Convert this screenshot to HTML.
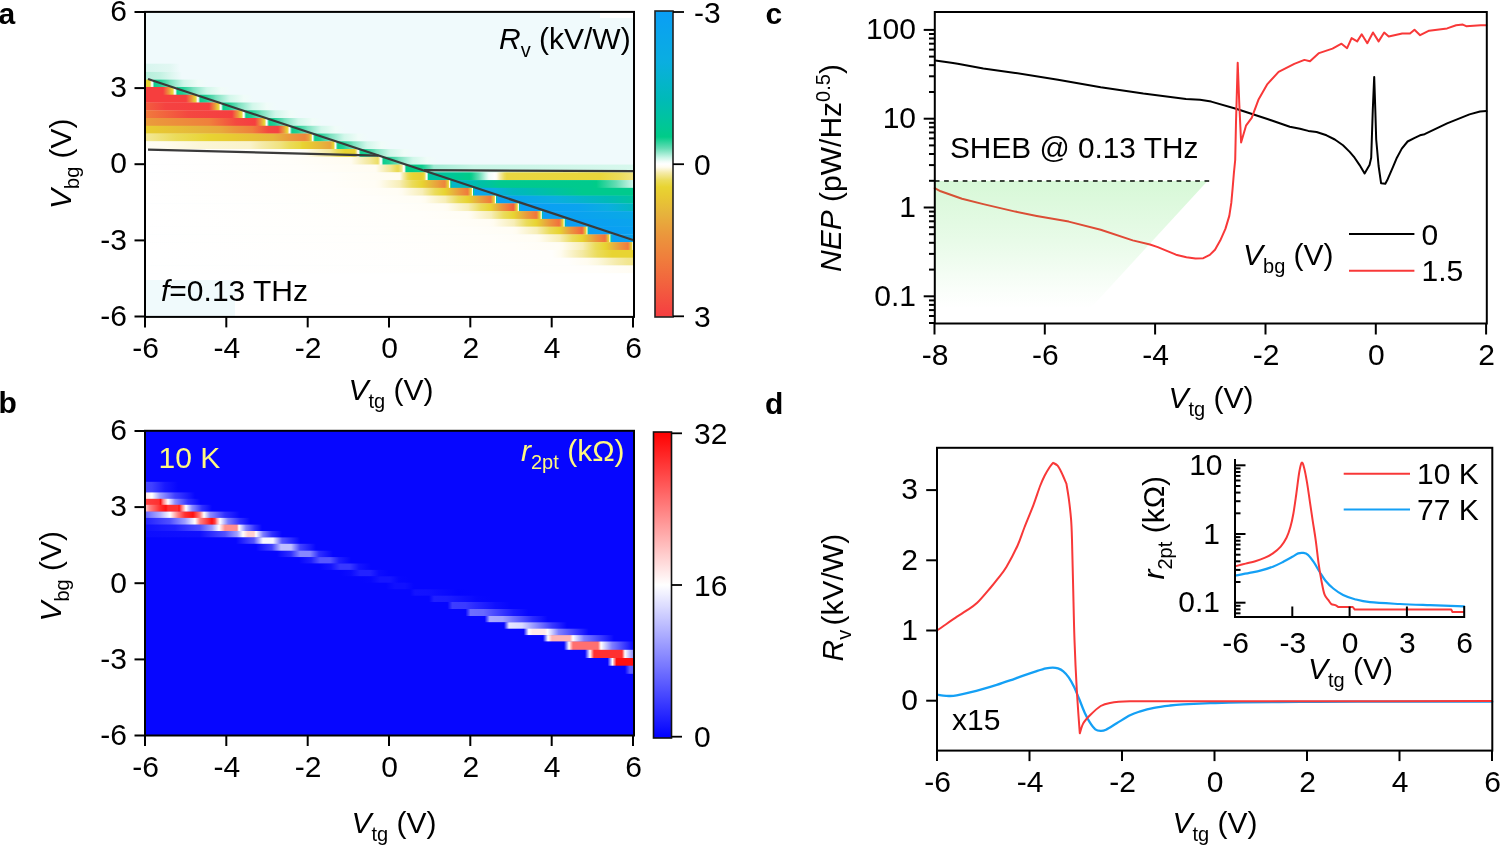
<!DOCTYPE html>
<html><head><meta charset="utf-8"><style>
html,body{margin:0;padding:0;background:#fff;width:1500px;height:846px;overflow:hidden}
svg{display:block;font-family:"Liberation Sans",sans-serif;will-change:transform}
</style></head><body>
<svg width="1500" height="846" viewBox="0 0 1500 846">
<defs><clipPath id="clipA"><rect x="145.0" y="11.9" width="489.0" height="305.0"/></clipPath><linearGradient id="g1" x1="145.0" x2="634.0" y1="0" y2="0" gradientUnits="userSpaceOnUse"><stop offset="0.0000" stop-color="#e8d132"/><stop offset="0.0000" stop-color="#e8d132"/><stop offset="0.0092" stop-color="#e8d432"/><stop offset="0.0107" stop-color="#ebdc5a"/><stop offset="0.0124" stop-color="#f5ebaa"/><stop offset="0.0136" stop-color="#fffcf0"/><stop offset="0.0143" stop-color="#ffffff"/><stop offset="0.0153" stop-color="#f0fcf8"/><stop offset="0.0161" stop-color="#c8f5e6"/><stop offset="0.0177" stop-color="#64dcb4"/><stop offset="0.0194" stop-color="#0ece8e"/><stop offset="0.0307" stop-color="#20d196"/><stop offset="0.0468" stop-color="#64dcb4"/><stop offset="0.0511" stop-color="#7ae2bf"/><stop offset="0.0762" stop-color="#c8f5e6"/><stop offset="0.0798" stop-color="#d2f7ea"/><stop offset="0.1084" stop-color="#f0fcf8"/><stop offset="0.1288" stop-color="#f0fafc"/></linearGradient><linearGradient id="g2" x1="145.0" x2="634.0" y1="0" y2="0" gradientUnits="userSpaceOnUse"><stop offset="0.0000" stop-color="#f63e3e"/><stop offset="0.0368" stop-color="#f63e3e"/><stop offset="0.0374" stop-color="#f54141"/><stop offset="0.0419" stop-color="#f2643e"/><stop offset="0.0452" stop-color="#f07d3c"/><stop offset="0.0486" stop-color="#eb963c"/><stop offset="0.0518" stop-color="#e6b43c"/><stop offset="0.0543" stop-color="#e8ca32"/><stop offset="0.0552" stop-color="#e8d132"/><stop offset="0.0558" stop-color="#e8d432"/><stop offset="0.0573" stop-color="#ebdc5a"/><stop offset="0.0591" stop-color="#f5ebaa"/><stop offset="0.0604" stop-color="#fffcf0"/><stop offset="0.0611" stop-color="#ffffff"/><stop offset="0.0622" stop-color="#f0fcf8"/><stop offset="0.0629" stop-color="#c8f5e6"/><stop offset="0.0645" stop-color="#64dcb4"/><stop offset="0.0663" stop-color="#0ece8e"/><stop offset="0.0775" stop-color="#20d196"/><stop offset="0.0936" stop-color="#64dcb4"/><stop offset="0.0980" stop-color="#7ae2bf"/><stop offset="0.1230" stop-color="#c8f5e6"/><stop offset="0.1266" stop-color="#d2f7ea"/><stop offset="0.1552" stop-color="#f0fcf8"/><stop offset="0.1757" stop-color="#f0fafc"/></linearGradient><linearGradient id="g3" x1="145.0" x2="634.0" y1="0" y2="0" gradientUnits="userSpaceOnUse"><stop offset="0.0000" stop-color="#f63e3e"/><stop offset="0.0838" stop-color="#f63e3e"/><stop offset="0.0844" stop-color="#f54141"/><stop offset="0.0889" stop-color="#f2643e"/><stop offset="0.0922" stop-color="#f07d3c"/><stop offset="0.0956" stop-color="#eb963c"/><stop offset="0.0989" stop-color="#e6b43c"/><stop offset="0.1014" stop-color="#e8ca32"/><stop offset="0.1022" stop-color="#e8d132"/><stop offset="0.1028" stop-color="#e8d432"/><stop offset="0.1043" stop-color="#ebdc5a"/><stop offset="0.1060" stop-color="#f5ebaa"/><stop offset="0.1073" stop-color="#fffcf0"/><stop offset="0.1080" stop-color="#ffffff"/><stop offset="0.1090" stop-color="#f0fcf8"/><stop offset="0.1097" stop-color="#c8f5e6"/><stop offset="0.1114" stop-color="#64dcb4"/><stop offset="0.1131" stop-color="#0ece8e"/><stop offset="0.1243" stop-color="#20d196"/><stop offset="0.1405" stop-color="#64dcb4"/><stop offset="0.1448" stop-color="#7ae2bf"/><stop offset="0.1698" stop-color="#c8f5e6"/><stop offset="0.1734" stop-color="#d2f7ea"/><stop offset="0.2020" stop-color="#f0fcf8"/><stop offset="0.2225" stop-color="#f0fafc"/></linearGradient><linearGradient id="g4" x1="145.0" x2="634.0" y1="0" y2="0" gradientUnits="userSpaceOnUse"><stop offset="0.0000" stop-color="#f25f3e"/><stop offset="0.0429" stop-color="#f54241"/><stop offset="0.0605" stop-color="#f54141"/><stop offset="0.1309" stop-color="#f63e3e"/><stop offset="0.1315" stop-color="#f54141"/><stop offset="0.1360" stop-color="#f2643e"/><stop offset="0.1393" stop-color="#f07d3c"/><stop offset="0.1427" stop-color="#eb963c"/><stop offset="0.1459" stop-color="#e6b43c"/><stop offset="0.1484" stop-color="#e8ca32"/><stop offset="0.1493" stop-color="#e8d132"/><stop offset="0.1498" stop-color="#e8d432"/><stop offset="0.1513" stop-color="#ebdc5a"/><stop offset="0.1529" stop-color="#f5ebaa"/><stop offset="0.1541" stop-color="#fffcf0"/><stop offset="0.1548" stop-color="#ffffff"/><stop offset="0.1558" stop-color="#f0fcf8"/><stop offset="0.1566" stop-color="#c8f5e6"/><stop offset="0.1582" stop-color="#64dcb4"/><stop offset="0.1599" stop-color="#0ece8e"/><stop offset="0.1712" stop-color="#20d196"/><stop offset="0.1873" stop-color="#64dcb4"/><stop offset="0.1916" stop-color="#7ae2bf"/><stop offset="0.2167" stop-color="#c8f5e6"/><stop offset="0.2202" stop-color="#d2f7ea"/><stop offset="0.2489" stop-color="#f0fcf8"/><stop offset="0.2693" stop-color="#f0fafc"/></linearGradient><linearGradient id="g5" x1="145.0" x2="634.0" y1="0" y2="0" gradientUnits="userSpaceOnUse"><stop offset="0.0000" stop-color="#f07b3c"/><stop offset="0.0401" stop-color="#f2643e"/><stop offset="0.0879" stop-color="#f44840"/><stop offset="0.1419" stop-color="#f54141"/><stop offset="0.1779" stop-color="#f63e3e"/><stop offset="0.1785" stop-color="#f54141"/><stop offset="0.1830" stop-color="#f2643e"/><stop offset="0.1863" stop-color="#f07d3c"/><stop offset="0.1897" stop-color="#eb963c"/><stop offset="0.1929" stop-color="#e6b43c"/><stop offset="0.1954" stop-color="#e8ca32"/><stop offset="0.1963" stop-color="#e8d132"/><stop offset="0.1969" stop-color="#e8d432"/><stop offset="0.1982" stop-color="#ebdc5a"/><stop offset="0.1998" stop-color="#f5ebaa"/><stop offset="0.2010" stop-color="#fffcf0"/><stop offset="0.2016" stop-color="#ffffff"/><stop offset="0.2027" stop-color="#f0fcf8"/><stop offset="0.2034" stop-color="#c8f5e6"/><stop offset="0.2050" stop-color="#64dcb4"/><stop offset="0.2067" stop-color="#0ece8e"/><stop offset="0.2180" stop-color="#20d196"/><stop offset="0.2341" stop-color="#64dcb4"/><stop offset="0.2384" stop-color="#7ae2bf"/><stop offset="0.2635" stop-color="#c8f5e6"/><stop offset="0.2671" stop-color="#d2f7ea"/><stop offset="0.2957" stop-color="#f0fcf8"/><stop offset="0.3162" stop-color="#f0fafc"/></linearGradient><linearGradient id="g6" x1="145.0" x2="634.0" y1="0" y2="0" gradientUnits="userSpaceOnUse"><stop offset="0.0000" stop-color="#ea9d3c"/><stop offset="0.0262" stop-color="#eb963c"/><stop offset="0.1309" stop-color="#ef803c"/><stop offset="0.1342" stop-color="#f07d3c"/><stop offset="0.1590" stop-color="#f2643e"/><stop offset="0.1861" stop-color="#f44840"/><stop offset="0.2094" stop-color="#f54141"/><stop offset="0.2249" stop-color="#f63e3e"/><stop offset="0.2255" stop-color="#f54141"/><stop offset="0.2300" stop-color="#f2643e"/><stop offset="0.2333" stop-color="#f07d3c"/><stop offset="0.2367" stop-color="#eb963c"/><stop offset="0.2400" stop-color="#e6b43c"/><stop offset="0.2425" stop-color="#e8ca32"/><stop offset="0.2434" stop-color="#e8d132"/><stop offset="0.2439" stop-color="#e8d432"/><stop offset="0.2452" stop-color="#ebdc5a"/><stop offset="0.2467" stop-color="#f5ebaa"/><stop offset="0.2479" stop-color="#fffcf0"/><stop offset="0.2485" stop-color="#ffffff"/><stop offset="0.2495" stop-color="#f0fcf8"/><stop offset="0.2502" stop-color="#c8f5e6"/><stop offset="0.2519" stop-color="#64dcb4"/><stop offset="0.2536" stop-color="#0ece8e"/><stop offset="0.2648" stop-color="#20d196"/><stop offset="0.2810" stop-color="#64dcb4"/><stop offset="0.2853" stop-color="#7ae2bf"/><stop offset="0.3103" stop-color="#c8f5e6"/><stop offset="0.3139" stop-color="#d2f7ea"/><stop offset="0.3425" stop-color="#f0fcf8"/><stop offset="0.3630" stop-color="#f0fafc"/></linearGradient><linearGradient id="g7" x1="145.0" x2="634.0" y1="0" y2="0" gradientUnits="userSpaceOnUse"><stop offset="0.0000" stop-color="#e8ce32"/><stop offset="0.0195" stop-color="#e8ca32"/><stop offset="0.1143" stop-color="#e6b43c"/><stop offset="0.1534" stop-color="#e8aa3c"/><stop offset="0.1814" stop-color="#eb963c"/><stop offset="0.2188" stop-color="#ef803c"/><stop offset="0.2208" stop-color="#f07d3c"/><stop offset="0.2355" stop-color="#f2643e"/><stop offset="0.2515" stop-color="#f44840"/><stop offset="0.2720" stop-color="#f54241"/><stop offset="0.2765" stop-color="#f2643e"/><stop offset="0.2800" stop-color="#f07d3c"/><stop offset="0.2835" stop-color="#eb963c"/><stop offset="0.2869" stop-color="#e6b43c"/><stop offset="0.2895" stop-color="#e8ca32"/><stop offset="0.2904" stop-color="#e8d132"/><stop offset="0.2909" stop-color="#e8d432"/><stop offset="0.2922" stop-color="#ebdc5a"/><stop offset="0.2936" stop-color="#f5ebaa"/><stop offset="0.2947" stop-color="#fffcf0"/><stop offset="0.2953" stop-color="#ffffff"/><stop offset="0.2963" stop-color="#f0fcf8"/><stop offset="0.2970" stop-color="#c8f5e6"/><stop offset="0.2987" stop-color="#64dcb4"/><stop offset="0.3004" stop-color="#0ece8e"/><stop offset="0.3117" stop-color="#20d196"/><stop offset="0.3278" stop-color="#64dcb4"/><stop offset="0.3321" stop-color="#7ae2bf"/><stop offset="0.3572" stop-color="#c8f5e6"/><stop offset="0.3607" stop-color="#d2f7ea"/><stop offset="0.3894" stop-color="#f0fcf8"/><stop offset="0.4098" stop-color="#f0fafc"/></linearGradient><linearGradient id="g8" x1="145.0" x2="634.0" y1="0" y2="0" gradientUnits="userSpaceOnUse"><stop offset="0.0000" stop-color="#f3e89a"/><stop offset="0.0628" stop-color="#ebdc5a"/><stop offset="0.1309" stop-color="#e8d432"/><stop offset="0.1803" stop-color="#e8ca32"/><stop offset="0.2618" stop-color="#e6b83a"/><stop offset="0.2665" stop-color="#e6b43c"/><stop offset="0.3012" stop-color="#eb963c"/><stop offset="0.3170" stop-color="#ed8b3c"/><stop offset="0.3272" stop-color="#ee863c"/><stop offset="0.3321" stop-color="#eb963c"/><stop offset="0.3354" stop-color="#e9a43c"/><stop offset="0.3368" stop-color="#e6b43c"/><stop offset="0.3388" stop-color="#e8ca32"/><stop offset="0.3395" stop-color="#e8d132"/><stop offset="0.3397" stop-color="#e8d432"/><stop offset="0.3404" stop-color="#ebdc5a"/><stop offset="0.3412" stop-color="#f5ebaa"/><stop offset="0.3418" stop-color="#fffcf0"/><stop offset="0.3421" stop-color="#ffffff"/><stop offset="0.3431" stop-color="#f0fcf8"/><stop offset="0.3439" stop-color="#c8f5e6"/><stop offset="0.3455" stop-color="#64dcb4"/><stop offset="0.3472" stop-color="#0ece8e"/><stop offset="0.3585" stop-color="#20d196"/><stop offset="0.3746" stop-color="#64dcb4"/><stop offset="0.3789" stop-color="#7ae2bf"/><stop offset="0.4040" stop-color="#c8f5e6"/><stop offset="0.4076" stop-color="#d2f7ea"/><stop offset="0.4362" stop-color="#f0fcf8"/><stop offset="0.4566" stop-color="#f0fafc"/></linearGradient><linearGradient id="g9" x1="145.0" x2="634.0" y1="0" y2="0" gradientUnits="userSpaceOnUse"><stop offset="0.0000" stop-color="#fffdf5"/><stop offset="0.0375" stop-color="#fffcf0"/><stop offset="0.1125" stop-color="#fbf6d7"/><stop offset="0.2147" stop-color="#faf3ca"/><stop offset="0.2383" stop-color="#f5ebaa"/><stop offset="0.2761" stop-color="#f0e37f"/><stop offset="0.2952" stop-color="#ebdc5a"/><stop offset="0.3170" stop-color="#e9d741"/><stop offset="0.3211" stop-color="#e8d432"/><stop offset="0.3350" stop-color="#e8ca32"/><stop offset="0.3579" stop-color="#e6b83a"/><stop offset="0.3620" stop-color="#e6b43c"/><stop offset="0.3783" stop-color="#e9a43c"/><stop offset="0.3808" stop-color="#e6b43c"/><stop offset="0.3843" stop-color="#e8ca32"/><stop offset="0.3845" stop-color="#e8cb32"/><stop offset="0.3856" stop-color="#e8d432"/><stop offset="0.3866" stop-color="#ebdc5a"/><stop offset="0.3877" stop-color="#f5ebaa"/><stop offset="0.3885" stop-color="#fffcf0"/><stop offset="0.3890" stop-color="#ffffff"/><stop offset="0.3900" stop-color="#f0fcf8"/><stop offset="0.3907" stop-color="#c8f5e6"/><stop offset="0.3923" stop-color="#64dcb4"/><stop offset="0.3941" stop-color="#0ece8e"/><stop offset="0.4053" stop-color="#20d196"/><stop offset="0.4215" stop-color="#64dcb4"/><stop offset="0.4258" stop-color="#7ae2bf"/><stop offset="0.4508" stop-color="#c8f5e6"/><stop offset="0.4544" stop-color="#d2f7ea"/><stop offset="0.4830" stop-color="#f0fcf8"/><stop offset="0.5035" stop-color="#f0fafc"/></linearGradient><linearGradient id="g10" x1="145.0" x2="634.0" y1="0" y2="0" gradientUnits="userSpaceOnUse"><stop offset="0.0000" stop-color="#ffffff"/><stop offset="0.3170" stop-color="#fffefa"/><stop offset="0.3306" stop-color="#fffcf0"/><stop offset="0.3681" stop-color="#f5ebaa"/><stop offset="0.3783" stop-color="#f3e89a"/><stop offset="0.3930" stop-color="#ebdc5a"/><stop offset="0.4090" stop-color="#e8d432"/><stop offset="0.4274" stop-color="#e8d132"/><stop offset="0.4284" stop-color="#e8d432"/><stop offset="0.4311" stop-color="#ebdc5a"/><stop offset="0.4315" stop-color="#ecde65"/><stop offset="0.4334" stop-color="#f5ebaa"/><stop offset="0.4349" stop-color="#fffcf0"/><stop offset="0.4358" stop-color="#ffffff"/><stop offset="0.4368" stop-color="#f0fcf8"/><stop offset="0.4375" stop-color="#c8f5e6"/><stop offset="0.4392" stop-color="#64dcb4"/><stop offset="0.4409" stop-color="#0ece8e"/><stop offset="0.4521" stop-color="#20d196"/><stop offset="0.4683" stop-color="#64dcb4"/><stop offset="0.4726" stop-color="#7ae2bf"/><stop offset="0.4976" stop-color="#c8f5e6"/><stop offset="0.5012" stop-color="#d2f7ea"/><stop offset="0.5299" stop-color="#f0fcf8"/><stop offset="0.5503" stop-color="#f0fafc"/></linearGradient><linearGradient id="g11" x1="145.0" x2="634.0" y1="0" y2="0" gradientUnits="userSpaceOnUse"><stop offset="0.0000" stop-color="#ffffff"/><stop offset="0.2965" stop-color="#fffefa"/><stop offset="0.4192" stop-color="#fffcf2"/><stop offset="0.4219" stop-color="#fffcf0"/><stop offset="0.4519" stop-color="#f5ebaa"/><stop offset="0.4601" stop-color="#f3e89a"/><stop offset="0.4765" stop-color="#ecde65"/><stop offset="0.4791" stop-color="#f5ebaa"/><stop offset="0.4814" stop-color="#fffcf0"/><stop offset="0.4826" stop-color="#ffffff"/><stop offset="0.4836" stop-color="#f0fcf8"/><stop offset="0.4844" stop-color="#c8f5e6"/><stop offset="0.4860" stop-color="#64dcb4"/><stop offset="0.4877" stop-color="#0ece8e"/><stop offset="0.4990" stop-color="#20d196"/><stop offset="0.5151" stop-color="#64dcb4"/><stop offset="0.5194" stop-color="#7ae2bf"/><stop offset="0.5445" stop-color="#c8f5e6"/><stop offset="0.5481" stop-color="#d2f7ea"/><stop offset="0.5767" stop-color="#f0fcf8"/><stop offset="0.5971" stop-color="#f0fafc"/></linearGradient><linearGradient id="g12" x1="145.0" x2="634.0" y1="0" y2="0" gradientUnits="userSpaceOnUse"><stop offset="0.0000" stop-color="#ffffff"/><stop offset="0.3170" stop-color="#fffefa"/><stop offset="0.4703" stop-color="#fffcf2"/><stop offset="0.4724" stop-color="#fffcf0"/><stop offset="0.4949" stop-color="#f5ebaa"/><stop offset="0.5010" stop-color="#f3e89a"/><stop offset="0.5141" stop-color="#ebdc5a"/><stop offset="0.5174" stop-color="#eada51"/><stop offset="0.5190" stop-color="#ebdc5a"/><stop offset="0.5256" stop-color="#f3e89a"/><stop offset="0.5261" stop-color="#f5ebaa"/><stop offset="0.5283" stop-color="#fffcf0"/><stop offset="0.5294" stop-color="#ffffff"/><stop offset="0.5305" stop-color="#f0fcf8"/><stop offset="0.5311" stop-color="#c8f5e6"/><stop offset="0.5326" stop-color="#64dcb4"/><stop offset="0.5344" stop-color="#00cc88"/><stop offset="0.5346" stop-color="#00cc89"/><stop offset="0.5472" stop-color="#00cc88"/><stop offset="0.5663" stop-color="#0ece8e"/><stop offset="0.5818" stop-color="#64dcb4"/><stop offset="0.5908" stop-color="#a1ebd3"/><stop offset="0.6726" stop-color="#c8f5e6"/><stop offset="0.9980" stop-color="#d7f8ed"/></linearGradient><linearGradient id="g13" x1="145.0" x2="634.0" y1="0" y2="0" gradientUnits="userSpaceOnUse"><stop offset="0.0000" stop-color="#ffffff"/><stop offset="0.3783" stop-color="#fffefa"/><stop offset="0.5215" stop-color="#fffcf0"/><stop offset="0.5281" stop-color="#f5ebaa"/><stop offset="0.5371" stop-color="#ebdc5a"/><stop offset="0.5419" stop-color="#e9d741"/><stop offset="0.5487" stop-color="#e8d432"/><stop offset="0.5624" stop-color="#e8ce32"/><stop offset="0.5678" stop-color="#e8d432"/><stop offset="0.5706" stop-color="#e9d741"/><stop offset="0.5717" stop-color="#ebdc5a"/><stop offset="0.5738" stop-color="#f5ebaa"/><stop offset="0.5754" stop-color="#fffcf0"/><stop offset="0.5763" stop-color="#ffffff"/><stop offset="0.5768" stop-color="#f0fcf8"/><stop offset="0.5773" stop-color="#d7f8ed"/><stop offset="0.5774" stop-color="#c8f5e6"/><stop offset="0.5783" stop-color="#64dcb4"/><stop offset="0.5793" stop-color="#00cc88"/><stop offset="0.5814" stop-color="#00c1a6"/><stop offset="0.6376" stop-color="#00c893"/><stop offset="0.6637" stop-color="#00cc88"/><stop offset="0.6683" stop-color="#0ece8e"/><stop offset="0.6830" stop-color="#64dcb4"/><stop offset="0.6969" stop-color="#c8f5e6"/><stop offset="0.7031" stop-color="#f0fcf8"/><stop offset="0.7153" stop-color="#ffffff"/><stop offset="0.7190" stop-color="#fffcf0"/><stop offset="0.7258" stop-color="#f5ebaa"/><stop offset="0.7350" stop-color="#ebdc5a"/><stop offset="0.7399" stop-color="#e9d741"/><stop offset="0.9305" stop-color="#e9d63b"/><stop offset="0.9702" stop-color="#ebdc5a"/><stop offset="0.9980" stop-color="#f0e37f"/></linearGradient><linearGradient id="g14" x1="145.0" x2="634.0" y1="0" y2="0" gradientUnits="userSpaceOnUse"><stop offset="0.0000" stop-color="#ffffff"/><stop offset="0.3777" stop-color="#fffefa"/><stop offset="0.4697" stop-color="#fffdf5"/><stop offset="0.4790" stop-color="#fffcf0"/><stop offset="0.5209" stop-color="#f7eeb7"/><stop offset="0.5239" stop-color="#f5ebaa"/><stop offset="0.5464" stop-color="#ebdc5a"/><stop offset="0.5658" stop-color="#e8d432"/><stop offset="0.5726" stop-color="#e8ca32"/><stop offset="0.5861" stop-color="#e6b43c"/><stop offset="0.5986" stop-color="#ea9f3c"/><stop offset="0.6028" stop-color="#eb963c"/><stop offset="0.6129" stop-color="#ee863c"/><stop offset="0.6147" stop-color="#eb963c"/><stop offset="0.6173" stop-color="#e6b43c"/><stop offset="0.6193" stop-color="#e8ca32"/><stop offset="0.6200" stop-color="#e8d132"/><stop offset="0.6203" stop-color="#e8d432"/><stop offset="0.6211" stop-color="#ebdc5a"/><stop offset="0.6221" stop-color="#f5ebaa"/><stop offset="0.6227" stop-color="#fffcf0"/><stop offset="0.6231" stop-color="#ffffff"/><stop offset="0.6234" stop-color="#f0fcf8"/><stop offset="0.6238" stop-color="#c8f5e6"/><stop offset="0.6241" stop-color="#a1ebd3"/><stop offset="0.6245" stop-color="#64dcb4"/><stop offset="0.6251" stop-color="#00cc88"/><stop offset="0.6273" stop-color="#00bab8"/><stop offset="0.6282" stop-color="#05b5ca"/><stop offset="0.6620" stop-color="#00bab8"/><stop offset="0.7254" stop-color="#00c990"/><stop offset="0.9100" stop-color="#00ca8d"/><stop offset="0.9228" stop-color="#00cc88"/><stop offset="0.9631" stop-color="#64dcb4"/><stop offset="0.9961" stop-color="#c8f5e6"/><stop offset="0.9980" stop-color="#cdf6e8"/></linearGradient><linearGradient id="g15" x1="145.0" x2="634.0" y1="0" y2="0" gradientUnits="userSpaceOnUse"><stop offset="0.0000" stop-color="#ffffff"/><stop offset="0.4245" stop-color="#fffefa"/><stop offset="0.5166" stop-color="#fffdf5"/><stop offset="0.5259" stop-color="#fffcf0"/><stop offset="0.5677" stop-color="#f7eeb7"/><stop offset="0.5707" stop-color="#f5ebaa"/><stop offset="0.5932" stop-color="#ebdc5a"/><stop offset="0.6127" stop-color="#e8d432"/><stop offset="0.6184" stop-color="#e8ca32"/><stop offset="0.6298" stop-color="#e6b43c"/><stop offset="0.6446" stop-color="#eb963c"/><stop offset="0.6454" stop-color="#eb953c"/><stop offset="0.6585" stop-color="#f07d3c"/><stop offset="0.6597" stop-color="#f07b3c"/><stop offset="0.6599" stop-color="#f07d3c"/><stop offset="0.6623" stop-color="#eb963c"/><stop offset="0.6645" stop-color="#e6b43c"/><stop offset="0.6663" stop-color="#e8ca32"/><stop offset="0.6669" stop-color="#e8d132"/><stop offset="0.6672" stop-color="#e8d432"/><stop offset="0.6680" stop-color="#ebdc5a"/><stop offset="0.6689" stop-color="#f5ebaa"/><stop offset="0.6696" stop-color="#fffcf0"/><stop offset="0.6699" stop-color="#ffffff"/><stop offset="0.6701" stop-color="#f0fcf8"/><stop offset="0.6704" stop-color="#c8f5e6"/><stop offset="0.6710" stop-color="#6addb7"/><stop offset="0.6710" stop-color="#64dcb4"/><stop offset="0.6714" stop-color="#00cc88"/><stop offset="0.6726" stop-color="#00bab8"/><stop offset="0.6739" stop-color="#0aaee0"/><stop offset="0.6751" stop-color="#0aa3ef"/><stop offset="0.7163" stop-color="#0aaee0"/><stop offset="0.7517" stop-color="#02b8bf"/><stop offset="0.7750" stop-color="#00bab8"/><stop offset="0.8949" stop-color="#00ca8d"/><stop offset="0.9980" stop-color="#00ca8d"/></linearGradient><linearGradient id="g16" x1="145.0" x2="634.0" y1="0" y2="0" gradientUnits="userSpaceOnUse"><stop offset="0.0000" stop-color="#ffffff"/><stop offset="0.4714" stop-color="#fffefa"/><stop offset="0.5634" stop-color="#fffdf5"/><stop offset="0.5727" stop-color="#fffcf0"/><stop offset="0.6145" stop-color="#f7eeb7"/><stop offset="0.6175" stop-color="#f5ebaa"/><stop offset="0.6400" stop-color="#ebdc5a"/><stop offset="0.6595" stop-color="#e8d432"/><stop offset="0.6652" stop-color="#e8ca32"/><stop offset="0.6766" stop-color="#e6b43c"/><stop offset="0.6914" stop-color="#eb963c"/><stop offset="0.6922" stop-color="#eb953c"/><stop offset="0.7053" stop-color="#f07d3c"/><stop offset="0.7065" stop-color="#f07b3c"/><stop offset="0.7067" stop-color="#f07d3c"/><stop offset="0.7091" stop-color="#eb963c"/><stop offset="0.7113" stop-color="#e6b43c"/><stop offset="0.7131" stop-color="#e8ca32"/><stop offset="0.7137" stop-color="#e8d132"/><stop offset="0.7140" stop-color="#e8d432"/><stop offset="0.7148" stop-color="#ebdc5a"/><stop offset="0.7157" stop-color="#f5ebaa"/><stop offset="0.7164" stop-color="#fffcf0"/><stop offset="0.7168" stop-color="#ffffff"/><stop offset="0.7169" stop-color="#f0fcf8"/><stop offset="0.7172" stop-color="#c8f5e6"/><stop offset="0.7178" stop-color="#6addb7"/><stop offset="0.7178" stop-color="#64dcb4"/><stop offset="0.7182" stop-color="#00cc88"/><stop offset="0.7193" stop-color="#00bab8"/><stop offset="0.7205" stop-color="#0aaee0"/><stop offset="0.7219" stop-color="#0aa0f3"/><stop offset="0.8395" stop-color="#0aaee0"/><stop offset="0.9446" stop-color="#00bab8"/><stop offset="0.9980" stop-color="#00c3a0"/></linearGradient><linearGradient id="g17" x1="145.0" x2="634.0" y1="0" y2="0" gradientUnits="userSpaceOnUse"><stop offset="0.0000" stop-color="#ffffff"/><stop offset="0.5182" stop-color="#fffefa"/><stop offset="0.6102" stop-color="#fffdf5"/><stop offset="0.6195" stop-color="#fffcf0"/><stop offset="0.6613" stop-color="#f7eeb7"/><stop offset="0.6643" stop-color="#f5ebaa"/><stop offset="0.6868" stop-color="#ebdc5a"/><stop offset="0.7063" stop-color="#e8d432"/><stop offset="0.7105" stop-color="#e8ca32"/><stop offset="0.7187" stop-color="#e6b43c"/><stop offset="0.7294" stop-color="#eb963c"/><stop offset="0.7391" stop-color="#ef803c"/><stop offset="0.7405" stop-color="#f07d3c"/><stop offset="0.7512" stop-color="#f2643e"/><stop offset="0.7534" stop-color="#f25f3e"/><stop offset="0.7537" stop-color="#f2643e"/><stop offset="0.7554" stop-color="#f07d3c"/><stop offset="0.7571" stop-color="#eb963c"/><stop offset="0.7588" stop-color="#e6b43c"/><stop offset="0.7601" stop-color="#e8ca32"/><stop offset="0.7605" stop-color="#e8d132"/><stop offset="0.7608" stop-color="#e8d432"/><stop offset="0.7616" stop-color="#ebdc5a"/><stop offset="0.7626" stop-color="#f5ebaa"/><stop offset="0.7632" stop-color="#fffcf0"/><stop offset="0.7636" stop-color="#ffffff"/><stop offset="0.7638" stop-color="#f0fcf8"/><stop offset="0.7640" stop-color="#c8f5e6"/><stop offset="0.7646" stop-color="#6addb7"/><stop offset="0.7646" stop-color="#64dcb4"/><stop offset="0.7650" stop-color="#00cc88"/><stop offset="0.7661" stop-color="#00bab8"/><stop offset="0.7672" stop-color="#0aaee0"/><stop offset="0.7687" stop-color="#0a9ef5"/><stop offset="0.8863" stop-color="#0aa3ef"/><stop offset="0.9464" stop-color="#0aaee0"/><stop offset="0.9980" stop-color="#02b8bf"/></linearGradient><linearGradient id="g18" x1="145.0" x2="634.0" y1="0" y2="0" gradientUnits="userSpaceOnUse"><stop offset="0.0000" stop-color="#ffffff"/><stop offset="0.5650" stop-color="#fffefa"/><stop offset="0.6571" stop-color="#fffdf5"/><stop offset="0.6664" stop-color="#fffcf0"/><stop offset="0.7082" stop-color="#f7eeb7"/><stop offset="0.7112" stop-color="#f5ebaa"/><stop offset="0.7337" stop-color="#ebdc5a"/><stop offset="0.7532" stop-color="#e8d432"/><stop offset="0.7585" stop-color="#e8ca32"/><stop offset="0.7691" stop-color="#e6b43c"/><stop offset="0.7828" stop-color="#eb963c"/><stop offset="0.7859" stop-color="#ec913c"/><stop offset="0.7962" stop-color="#f07d3c"/><stop offset="0.8002" stop-color="#f1753d"/><stop offset="0.8009" stop-color="#f07d3c"/><stop offset="0.8031" stop-color="#eb963c"/><stop offset="0.8052" stop-color="#e6b43c"/><stop offset="0.8068" stop-color="#e8ca32"/><stop offset="0.8074" stop-color="#e8d132"/><stop offset="0.8077" stop-color="#e8d432"/><stop offset="0.8085" stop-color="#ebdc5a"/><stop offset="0.8094" stop-color="#f5ebaa"/><stop offset="0.8101" stop-color="#fffcf0"/><stop offset="0.8104" stop-color="#ffffff"/><stop offset="0.8106" stop-color="#f0fcf8"/><stop offset="0.8109" stop-color="#c8f5e6"/><stop offset="0.8115" stop-color="#6addb7"/><stop offset="0.8115" stop-color="#64dcb4"/><stop offset="0.8118" stop-color="#00cc88"/><stop offset="0.8129" stop-color="#00bab8"/><stop offset="0.8140" stop-color="#0aaee0"/><stop offset="0.8155" stop-color="#0a9ef5"/><stop offset="0.9980" stop-color="#0aa9e6"/></linearGradient><linearGradient id="g19" x1="145.0" x2="634.0" y1="0" y2="0" gradientUnits="userSpaceOnUse"><stop offset="0.0000" stop-color="#ffffff"/><stop offset="0.6119" stop-color="#fffefa"/><stop offset="0.7039" stop-color="#fffdf5"/><stop offset="0.7132" stop-color="#fffcf0"/><stop offset="0.7550" stop-color="#f7eeb7"/><stop offset="0.7580" stop-color="#f5ebaa"/><stop offset="0.7805" stop-color="#ebdc5a"/><stop offset="0.8000" stop-color="#e8d432"/><stop offset="0.8049" stop-color="#e8ca32"/><stop offset="0.8148" stop-color="#e6b43c"/><stop offset="0.8276" stop-color="#eb963c"/><stop offset="0.8327" stop-color="#ed8c3c"/><stop offset="0.8405" stop-color="#f07d3c"/><stop offset="0.8470" stop-color="#f1703d"/><stop offset="0.8481" stop-color="#f07d3c"/><stop offset="0.8502" stop-color="#eb963c"/><stop offset="0.8521" stop-color="#e6b43c"/><stop offset="0.8537" stop-color="#e8ca32"/><stop offset="0.8542" stop-color="#e8d132"/><stop offset="0.8545" stop-color="#e8d432"/><stop offset="0.8553" stop-color="#ebdc5a"/><stop offset="0.8562" stop-color="#f5ebaa"/><stop offset="0.8569" stop-color="#fffcf0"/><stop offset="0.8573" stop-color="#ffffff"/><stop offset="0.8574" stop-color="#f0fcf8"/><stop offset="0.8577" stop-color="#c8f5e6"/><stop offset="0.8583" stop-color="#6addb7"/><stop offset="0.8583" stop-color="#64dcb4"/><stop offset="0.8586" stop-color="#00cc88"/><stop offset="0.8598" stop-color="#00bab8"/><stop offset="0.8609" stop-color="#0aaee0"/><stop offset="0.8624" stop-color="#0a9ef5"/><stop offset="0.9980" stop-color="#0aa4ed"/></linearGradient><linearGradient id="g20" x1="145.0" x2="634.0" y1="0" y2="0" gradientUnits="userSpaceOnUse"><stop offset="0.0000" stop-color="#ffffff"/><stop offset="0.6587" stop-color="#fffefa"/><stop offset="0.7507" stop-color="#fffdf5"/><stop offset="0.7600" stop-color="#fffcf0"/><stop offset="0.8018" stop-color="#f7eeb7"/><stop offset="0.8048" stop-color="#f5ebaa"/><stop offset="0.8273" stop-color="#ebdc5a"/><stop offset="0.8468" stop-color="#e8d432"/><stop offset="0.8512" stop-color="#e8ca32"/><stop offset="0.8599" stop-color="#e6b43c"/><stop offset="0.8712" stop-color="#eb963c"/><stop offset="0.8796" stop-color="#ef843c"/><stop offset="0.8829" stop-color="#f07d3c"/><stop offset="0.8939" stop-color="#f2653e"/><stop offset="0.8956" stop-color="#f07d3c"/><stop offset="0.8974" stop-color="#eb963c"/><stop offset="0.8992" stop-color="#e6b43c"/><stop offset="0.9005" stop-color="#e8ca32"/><stop offset="0.9010" stop-color="#e8d132"/><stop offset="0.9013" stop-color="#e8d432"/><stop offset="0.9021" stop-color="#ebdc5a"/><stop offset="0.9030" stop-color="#f5ebaa"/><stop offset="0.9037" stop-color="#fffcf0"/><stop offset="0.9041" stop-color="#ffffff"/><stop offset="0.9043" stop-color="#f0fcf8"/><stop offset="0.9045" stop-color="#c8f5e6"/><stop offset="0.9051" stop-color="#6addb7"/><stop offset="0.9051" stop-color="#64dcb4"/><stop offset="0.9055" stop-color="#00cc88"/><stop offset="0.9066" stop-color="#00bab8"/><stop offset="0.9077" stop-color="#0aaee0"/><stop offset="0.9092" stop-color="#0a9ef5"/><stop offset="0.9980" stop-color="#0aa1f1"/></linearGradient><linearGradient id="g21" x1="145.0" x2="634.0" y1="0" y2="0" gradientUnits="userSpaceOnUse"><stop offset="0.0000" stop-color="#ffffff"/><stop offset="0.7055" stop-color="#fffefa"/><stop offset="0.7975" stop-color="#fffdf5"/><stop offset="0.8068" stop-color="#fffcf0"/><stop offset="0.8487" stop-color="#f7eeb7"/><stop offset="0.8517" stop-color="#f5ebaa"/><stop offset="0.8742" stop-color="#ebdc5a"/><stop offset="0.8937" stop-color="#e8d432"/><stop offset="0.8986" stop-color="#e8ca32"/><stop offset="0.9085" stop-color="#e6b43c"/><stop offset="0.9213" stop-color="#eb963c"/><stop offset="0.9264" stop-color="#ed8c3c"/><stop offset="0.9342" stop-color="#f07d3c"/><stop offset="0.9407" stop-color="#f1703d"/><stop offset="0.9418" stop-color="#f07d3c"/><stop offset="0.9438" stop-color="#eb963c"/><stop offset="0.9458" stop-color="#e6b43c"/><stop offset="0.9473" stop-color="#e8ca32"/><stop offset="0.9479" stop-color="#e8d132"/><stop offset="0.9482" stop-color="#e8d432"/><stop offset="0.9490" stop-color="#ebdc5a"/><stop offset="0.9499" stop-color="#f5ebaa"/><stop offset="0.9506" stop-color="#fffcf0"/><stop offset="0.9509" stop-color="#ffffff"/><stop offset="0.9511" stop-color="#f0fcf8"/><stop offset="0.9514" stop-color="#c8f5e6"/><stop offset="0.9519" stop-color="#6addb7"/><stop offset="0.9520" stop-color="#64dcb4"/><stop offset="0.9523" stop-color="#00cc88"/><stop offset="0.9535" stop-color="#00bab8"/><stop offset="0.9546" stop-color="#0aaee0"/><stop offset="0.9560" stop-color="#0aa0f3"/><stop offset="0.9980" stop-color="#0aa3ef"/></linearGradient><linearGradient id="g22" x1="145.0" x2="634.0" y1="0" y2="0" gradientUnits="userSpaceOnUse"><stop offset="0.0000" stop-color="#ffffff"/><stop offset="0.7524" stop-color="#fffefa"/><stop offset="0.8444" stop-color="#fffdf5"/><stop offset="0.8537" stop-color="#fffcf0"/><stop offset="0.8955" stop-color="#f7eeb7"/><stop offset="0.8985" stop-color="#f5ebaa"/><stop offset="0.9210" stop-color="#ebdc5a"/><stop offset="0.9405" stop-color="#e8d432"/><stop offset="0.9462" stop-color="#e8ca32"/><stop offset="0.9576" stop-color="#e6b43c"/><stop offset="0.9724" stop-color="#eb963c"/><stop offset="0.9732" stop-color="#eb953c"/><stop offset="0.9863" stop-color="#f07d3c"/><stop offset="0.9875" stop-color="#f07b3c"/><stop offset="0.9877" stop-color="#f07d3c"/><stop offset="0.9901" stop-color="#eb963c"/><stop offset="0.9923" stop-color="#e6b43c"/><stop offset="0.9941" stop-color="#e8ca32"/><stop offset="0.9947" stop-color="#e8d132"/><stop offset="0.9950" stop-color="#e8d432"/><stop offset="0.9958" stop-color="#ebdc5a"/><stop offset="0.9967" stop-color="#f5ebaa"/><stop offset="0.9974" stop-color="#fffcf0"/><stop offset="0.9978" stop-color="#ffffff"/></linearGradient><linearGradient id="g23" x1="145.0" x2="634.0" y1="0" y2="0" gradientUnits="userSpaceOnUse"><stop offset="0.0000" stop-color="#ffffff"/><stop offset="0.8323" stop-color="#fffefc"/><stop offset="0.8504" stop-color="#fffcf0"/><stop offset="0.8901" stop-color="#f5ebaa"/><stop offset="0.8937" stop-color="#f4eaa5"/><stop offset="0.9255" stop-color="#ebdc5a"/><stop offset="0.9550" stop-color="#e8d432"/><stop offset="0.9980" stop-color="#e8d432"/></linearGradient><linearGradient id="g24" x1="145.0" x2="634.0" y1="0" y2="0" gradientUnits="userSpaceOnUse"><stop offset="0.0000" stop-color="#ffffff"/><stop offset="0.8650" stop-color="#fffefc"/><stop offset="0.9044" stop-color="#fffcf0"/><stop offset="0.9264" stop-color="#fcf8de"/><stop offset="0.9645" stop-color="#f5ebaa"/><stop offset="0.9877" stop-color="#f2e68f"/><stop offset="0.9980" stop-color="#f2e68f"/></linearGradient><linearGradient id="g25" x1="145.0" x2="634.0" y1="0" y2="0" gradientUnits="userSpaceOnUse"><stop offset="0.0000" stop-color="#ffffff"/><stop offset="0.8732" stop-color="#fffefc"/><stop offset="0.9346" stop-color="#fffefa"/><stop offset="0.9959" stop-color="#fffcf2"/><stop offset="0.9980" stop-color="#fffcf2"/></linearGradient><linearGradient id="g26" x1="145.0" x2="634.0" y1="0" y2="0" gradientUnits="userSpaceOnUse"><stop offset="0.0000" stop-color="#b4eeda"/><stop offset="0.0307" stop-color="#c3f2e2"/><stop offset="0.0552" stop-color="#def7f0"/><stop offset="0.0757" stop-color="#f0fafc"/></linearGradient><linearGradient id="g27" x1="145.0" x2="634.0" y1="0" y2="0" gradientUnits="userSpaceOnUse"><stop offset="0.0000" stop-color="#d7f5ee"/><stop offset="0.0511" stop-color="#e1f7f2"/><stop offset="0.0716" stop-color="#f0fafc"/></linearGradient><linearGradient id="g28" x1="0" x2="0" y1="0" y2="1"><stop offset="0.0000" stop-color="#0a9ef5"/><stop offset="0.1667" stop-color="#0aaee0"/><stop offset="0.2883" stop-color="#00bab8"/><stop offset="0.4117" stop-color="#00cc88"/><stop offset="0.4483" stop-color="#64dcb4"/><stop offset="0.4783" stop-color="#c8f5e6"/><stop offset="0.4917" stop-color="#f0fcf8"/><stop offset="0.5000" stop-color="#ffffff"/><stop offset="0.5100" stop-color="#fffcf0"/><stop offset="0.5283" stop-color="#f5ebaa"/><stop offset="0.5533" stop-color="#ebdc5a"/><stop offset="0.5750" stop-color="#e8d432"/><stop offset="0.6033" stop-color="#e8ca32"/><stop offset="0.6600" stop-color="#e6b43c"/><stop offset="0.7333" stop-color="#eb963c"/><stop offset="0.8100" stop-color="#f07d3c"/><stop offset="0.8850" stop-color="#f2643e"/><stop offset="0.9867" stop-color="#f54141"/><stop offset="1.0000" stop-color="#f63e3e"/></linearGradient><clipPath id="clipB"><rect x="145.0" y="430.8" width="489.0" height="304.7"/></clipPath><linearGradient id="g29" x1="145.0" x2="634.0" y1="0" y2="0" gradientUnits="userSpaceOnUse"><stop offset="0.0000" stop-color="#4848ff"/><stop offset="0.0143" stop-color="#4040ff"/><stop offset="0.0409" stop-color="#1818ff"/><stop offset="0.0675" stop-color="#0606ff"/><stop offset="1.0000" stop-color="#0606ff"/></linearGradient><linearGradient id="g30" x1="145.0" x2="634.0" y1="0" y2="0" gradientUnits="userSpaceOnUse"><stop offset="0.0000" stop-color="#ffdfdf"/><stop offset="0.0061" stop-color="#ffefef"/><stop offset="0.0143" stop-color="#ffffff"/><stop offset="0.0307" stop-color="#9f9fff"/><stop offset="0.0613" stop-color="#4040ff"/><stop offset="0.1022" stop-color="#0606ff"/><stop offset="1.0000" stop-color="#0606ff"/></linearGradient><linearGradient id="g31" x1="145.0" x2="634.0" y1="0" y2="0" gradientUnits="userSpaceOnUse"><stop offset="0.0000" stop-color="#ff4040"/><stop offset="0.0286" stop-color="#ff3030"/><stop offset="0.0317" stop-color="#ff1010"/><stop offset="0.0368" stop-color="#ff8080"/><stop offset="0.0470" stop-color="#ffffff"/><stop offset="0.0613" stop-color="#8f8fff"/><stop offset="0.0879" stop-color="#3030ff"/><stop offset="0.1125" stop-color="#0606ff"/><stop offset="1.0000" stop-color="#0606ff"/></linearGradient><linearGradient id="g32" x1="145.0" x2="634.0" y1="0" y2="0" gradientUnits="userSpaceOnUse"><stop offset="0.0000" stop-color="#ffcfcf"/><stop offset="0.0102" stop-color="#ff8080"/><stop offset="0.0307" stop-color="#ff3030"/><stop offset="0.0429" stop-color="#ff1010"/><stop offset="0.0470" stop-color="#ff3030"/><stop offset="0.0675" stop-color="#ff3030"/><stop offset="0.0695" stop-color="#ff1010"/><stop offset="0.0757" stop-color="#ff8080"/><stop offset="0.0838" stop-color="#ffffff"/><stop offset="0.0961" stop-color="#8f8fff"/><stop offset="0.1166" stop-color="#3030ff"/><stop offset="0.1370" stop-color="#0606ff"/><stop offset="1.0000" stop-color="#0606ff"/></linearGradient><linearGradient id="g33" x1="145.0" x2="634.0" y1="0" y2="0" gradientUnits="userSpaceOnUse"><stop offset="0.0000" stop-color="#6060ff"/><stop offset="0.0307" stop-color="#afafff"/><stop offset="0.0511" stop-color="#ffffff"/><stop offset="0.0675" stop-color="#ff8080"/><stop offset="0.0818" stop-color="#ff3030"/><stop offset="0.0982" stop-color="#ff1010"/><stop offset="0.1022" stop-color="#ff3030"/><stop offset="0.1125" stop-color="#ff8080"/><stop offset="0.1207" stop-color="#ffffff"/><stop offset="0.1329" stop-color="#8f8fff"/><stop offset="0.1636" stop-color="#3030ff"/><stop offset="0.1943" stop-color="#0606ff"/><stop offset="1.0000" stop-color="#0606ff"/></linearGradient><linearGradient id="g34" x1="145.0" x2="634.0" y1="0" y2="0" gradientUnits="userSpaceOnUse"><stop offset="0.0000" stop-color="#2020ff"/><stop offset="0.0511" stop-color="#5050ff"/><stop offset="0.0818" stop-color="#9f9fff"/><stop offset="0.1022" stop-color="#ffffff"/><stop offset="0.1125" stop-color="#ff8080"/><stop offset="0.1268" stop-color="#ff4040"/><stop offset="0.1370" stop-color="#ff1010"/><stop offset="0.1431" stop-color="#ff4040"/><stop offset="0.1472" stop-color="#ff9f9f"/><stop offset="0.1534" stop-color="#ffffff"/><stop offset="0.1697" stop-color="#8080ff"/><stop offset="0.1943" stop-color="#3030ff"/><stop offset="0.2147" stop-color="#0606ff"/><stop offset="1.0000" stop-color="#0606ff"/></linearGradient><linearGradient id="g35" x1="145.0" x2="634.0" y1="0" y2="0" gradientUnits="userSpaceOnUse"><stop offset="0.0000" stop-color="#1010ff"/><stop offset="0.0613" stop-color="#2020ff"/><stop offset="0.1125" stop-color="#5050ff"/><stop offset="0.1370" stop-color="#9f9fff"/><stop offset="0.1513" stop-color="#ffffff"/><stop offset="0.1636" stop-color="#ff8f8f"/><stop offset="0.1881" stop-color="#ff8f8f"/><stop offset="0.1922" stop-color="#ffffff"/><stop offset="0.2065" stop-color="#8080ff"/><stop offset="0.2249" stop-color="#3030ff"/><stop offset="0.2393" stop-color="#0606ff"/><stop offset="1.0000" stop-color="#0606ff"/></linearGradient><linearGradient id="g36" x1="145.0" x2="634.0" y1="0" y2="0" gradientUnits="userSpaceOnUse"><stop offset="0.0000" stop-color="#0d0dff"/><stop offset="0.1125" stop-color="#1010ff"/><stop offset="0.1636" stop-color="#5050ff"/><stop offset="0.1881" stop-color="#9f9fff"/><stop offset="0.2004" stop-color="#ffffff"/><stop offset="0.2106" stop-color="#ffcfcf"/><stop offset="0.2229" stop-color="#ffcfcf"/><stop offset="0.2270" stop-color="#ffffff"/><stop offset="0.2413" stop-color="#8080ff"/><stop offset="0.2597" stop-color="#3030ff"/><stop offset="0.2802" stop-color="#0606ff"/><stop offset="1.0000" stop-color="#0606ff"/></linearGradient><linearGradient id="g37" x1="145.0" x2="634.0" y1="0" y2="0" gradientUnits="userSpaceOnUse"><stop offset="0.0000" stop-color="#0606ff"/><stop offset="0.1861" stop-color="#0606ff"/><stop offset="0.2229" stop-color="#5656ff"/><stop offset="0.2413" stop-color="#f7f7ff"/><stop offset="0.2618" stop-color="#f7f7ff"/><stop offset="0.2802" stop-color="#5656ff"/><stop offset="0.3170" stop-color="#0606ff"/><stop offset="1.0000" stop-color="#0606ff"/></linearGradient><linearGradient id="g38" x1="145.0" x2="634.0" y1="0" y2="0" gradientUnits="userSpaceOnUse"><stop offset="0.0000" stop-color="#0606ff"/><stop offset="0.2270" stop-color="#0606ff"/><stop offset="0.2597" stop-color="#4343ff"/><stop offset="0.2781" stop-color="#bfbfff"/><stop offset="0.2986" stop-color="#bfbfff"/><stop offset="0.3170" stop-color="#4343ff"/><stop offset="0.3497" stop-color="#0606ff"/><stop offset="1.0000" stop-color="#0606ff"/></linearGradient><linearGradient id="g39" x1="145.0" x2="634.0" y1="0" y2="0" gradientUnits="userSpaceOnUse"><stop offset="0.0000" stop-color="#0606ff"/><stop offset="0.2699" stop-color="#0606ff"/><stop offset="0.2986" stop-color="#2f2fff"/><stop offset="0.3170" stop-color="#8787ff"/><stop offset="0.3374" stop-color="#8787ff"/><stop offset="0.3558" stop-color="#2f2fff"/><stop offset="0.3845" stop-color="#0606ff"/><stop offset="1.0000" stop-color="#0606ff"/></linearGradient><linearGradient id="g40" x1="145.0" x2="634.0" y1="0" y2="0" gradientUnits="userSpaceOnUse"><stop offset="0.0000" stop-color="#0606ff"/><stop offset="0.3149" stop-color="#0606ff"/><stop offset="0.3395" stop-color="#1f1fff"/><stop offset="0.3579" stop-color="#5858ff"/><stop offset="0.3783" stop-color="#5858ff"/><stop offset="0.3967" stop-color="#1f1fff"/><stop offset="0.4213" stop-color="#0606ff"/><stop offset="1.0000" stop-color="#0606ff"/></linearGradient><linearGradient id="g41" x1="145.0" x2="634.0" y1="0" y2="0" gradientUnits="userSpaceOnUse"><stop offset="0.0000" stop-color="#0606ff"/><stop offset="0.3558" stop-color="#0606ff"/><stop offset="0.3804" stop-color="#1414ff"/><stop offset="0.3988" stop-color="#3838ff"/><stop offset="0.4192" stop-color="#3838ff"/><stop offset="0.4376" stop-color="#1414ff"/><stop offset="0.4622" stop-color="#0606ff"/><stop offset="1.0000" stop-color="#0606ff"/></linearGradient><linearGradient id="g42" x1="145.0" x2="634.0" y1="0" y2="0" gradientUnits="userSpaceOnUse"><stop offset="0.0000" stop-color="#0606ff"/><stop offset="0.4008" stop-color="#0606ff"/><stop offset="0.4213" stop-color="#0c0cff"/><stop offset="0.4397" stop-color="#2323ff"/><stop offset="0.4601" stop-color="#2323ff"/><stop offset="0.4785" stop-color="#0c0cff"/><stop offset="0.4990" stop-color="#0606ff"/><stop offset="1.0000" stop-color="#0606ff"/></linearGradient><linearGradient id="g43" x1="145.0" x2="634.0" y1="0" y2="0" gradientUnits="userSpaceOnUse"><stop offset="0.0000" stop-color="#0606ff"/><stop offset="0.4417" stop-color="#0606ff"/><stop offset="0.4622" stop-color="#0808ff"/><stop offset="0.4806" stop-color="#1616ff"/><stop offset="0.5010" stop-color="#1616ff"/><stop offset="0.5194" stop-color="#0808ff"/><stop offset="0.5399" stop-color="#0606ff"/><stop offset="1.0000" stop-color="#0606ff"/></linearGradient><linearGradient id="g44" x1="145.0" x2="634.0" y1="0" y2="0" gradientUnits="userSpaceOnUse"><stop offset="0.0000" stop-color="#0606ff"/><stop offset="0.4724" stop-color="#0606ff"/><stop offset="0.4928" stop-color="#0606ff"/><stop offset="0.5112" stop-color="#1010ff"/><stop offset="0.5317" stop-color="#1010ff"/><stop offset="0.5501" stop-color="#0606ff"/><stop offset="0.5706" stop-color="#0606ff"/><stop offset="1.0000" stop-color="#0606ff"/></linearGradient><linearGradient id="g45" x1="145.0" x2="634.0" y1="0" y2="0" gradientUnits="userSpaceOnUse"><stop offset="0.0000" stop-color="#0606ff"/><stop offset="0.5419" stop-color="#0606ff"/><stop offset="0.5521" stop-color="#1313ff"/><stop offset="0.5787" stop-color="#1212ff"/><stop offset="0.5992" stop-color="#0d0dff"/><stop offset="0.6401" stop-color="#0505ff"/><stop offset="0.6708" stop-color="#0606ff"/><stop offset="1.0000" stop-color="#0606ff"/></linearGradient><linearGradient id="g46" x1="145.0" x2="634.0" y1="0" y2="0" gradientUnits="userSpaceOnUse"><stop offset="0.0000" stop-color="#0606ff"/><stop offset="0.5808" stop-color="#0606ff"/><stop offset="0.5910" stop-color="#2020ff"/><stop offset="0.6176" stop-color="#1e1eff"/><stop offset="0.6380" stop-color="#1616ff"/><stop offset="0.6789" stop-color="#0808ff"/><stop offset="0.7096" stop-color="#0606ff"/><stop offset="1.0000" stop-color="#0606ff"/></linearGradient><linearGradient id="g47" x1="145.0" x2="634.0" y1="0" y2="0" gradientUnits="userSpaceOnUse"><stop offset="0.0000" stop-color="#0606ff"/><stop offset="0.6184" stop-color="#0606ff"/><stop offset="0.6286" stop-color="#3d3dff"/><stop offset="0.6552" stop-color="#3a3aff"/><stop offset="0.6757" stop-color="#2a2aff"/><stop offset="0.7166" stop-color="#0f0fff"/><stop offset="0.7472" stop-color="#0606ff"/><stop offset="1.0000" stop-color="#0606ff"/></linearGradient><linearGradient id="g48" x1="145.0" x2="634.0" y1="0" y2="0" gradientUnits="userSpaceOnUse"><stop offset="0.0000" stop-color="#0606ff"/><stop offset="0.6554" stop-color="#0606ff"/><stop offset="0.6656" stop-color="#6e6eff"/><stop offset="0.6922" stop-color="#6868ff"/><stop offset="0.7127" stop-color="#4d4dff"/><stop offset="0.7536" stop-color="#1b1bff"/><stop offset="0.7843" stop-color="#0606ff"/><stop offset="1.0000" stop-color="#0606ff"/></linearGradient><linearGradient id="g49" x1="145.0" x2="634.0" y1="0" y2="0" gradientUnits="userSpaceOnUse"><stop offset="0.0000" stop-color="#0606ff"/><stop offset="0.6947" stop-color="#0606ff"/><stop offset="0.7049" stop-color="#ababff"/><stop offset="0.7315" stop-color="#a2a2ff"/><stop offset="0.7519" stop-color="#7777ff"/><stop offset="0.7928" stop-color="#2b2bff"/><stop offset="0.8235" stop-color="#0606ff"/><stop offset="1.0000" stop-color="#0606ff"/></linearGradient><linearGradient id="g50" x1="145.0" x2="634.0" y1="0" y2="0" gradientUnits="userSpaceOnUse"><stop offset="0.0000" stop-color="#0606ff"/><stop offset="0.7342" stop-color="#0606ff"/><stop offset="0.7444" stop-color="#e6e6ff"/><stop offset="0.7710" stop-color="#dadaff"/><stop offset="0.7914" stop-color="#a1a1ff"/><stop offset="0.8323" stop-color="#3939ff"/><stop offset="0.8630" stop-color="#0606ff"/><stop offset="1.0000" stop-color="#0606ff"/></linearGradient><linearGradient id="g51" x1="145.0" x2="634.0" y1="0" y2="0" gradientUnits="userSpaceOnUse"><stop offset="0.0000" stop-color="#0606ff"/><stop offset="0.7744" stop-color="#0606ff"/><stop offset="0.7847" stop-color="#ffffff"/><stop offset="0.7928" stop-color="#ffeaea"/><stop offset="0.8174" stop-color="#ffeaea"/><stop offset="0.8235" stop-color="#ffffff"/><stop offset="0.8460" stop-color="#8080ff"/><stop offset="0.9074" stop-color="#0606ff"/><stop offset="1.0000" stop-color="#0606ff"/></linearGradient><linearGradient id="g52" x1="145.0" x2="634.0" y1="0" y2="0" gradientUnits="userSpaceOnUse"><stop offset="0.0000" stop-color="#0606ff"/><stop offset="0.8139" stop-color="#0606ff"/><stop offset="0.8241" stop-color="#ffffff"/><stop offset="0.8323" stop-color="#ffb4b4"/><stop offset="0.8691" stop-color="#ffb4b4"/><stop offset="0.8753" stop-color="#ffffff"/><stop offset="0.8978" stop-color="#8080ff"/><stop offset="0.9591" stop-color="#0606ff"/><stop offset="1.0000" stop-color="#0606ff"/></linearGradient><linearGradient id="g53" x1="145.0" x2="634.0" y1="0" y2="0" gradientUnits="userSpaceOnUse"><stop offset="0.0000" stop-color="#0606ff"/><stop offset="0.8569" stop-color="#0606ff"/><stop offset="0.8671" stop-color="#ffffff"/><stop offset="0.8753" stop-color="#ff7070"/><stop offset="0.9264" stop-color="#ff7070"/><stop offset="0.9325" stop-color="#ffffff"/><stop offset="0.9550" stop-color="#8080ff"/><stop offset="1.0164" stop-color="#0606ff"/></linearGradient><linearGradient id="g54" x1="145.0" x2="634.0" y1="0" y2="0" gradientUnits="userSpaceOnUse"><stop offset="0.0000" stop-color="#0606ff"/><stop offset="0.8998" stop-color="#0606ff"/><stop offset="0.9100" stop-color="#ffffff"/><stop offset="0.9182" stop-color="#ff3030"/><stop offset="0.9755" stop-color="#ff3030"/><stop offset="0.9816" stop-color="#ffffff"/><stop offset="1.0041" stop-color="#8080ff"/><stop offset="1.0654" stop-color="#0606ff"/></linearGradient><linearGradient id="g55" x1="145.0" x2="634.0" y1="0" y2="0" gradientUnits="userSpaceOnUse"><stop offset="0.0000" stop-color="#0606ff"/><stop offset="0.9458" stop-color="#0606ff"/><stop offset="0.9560" stop-color="#ffffff"/><stop offset="0.9642" stop-color="#ff1010"/><stop offset="1.0256" stop-color="#ff1010"/><stop offset="1.0317" stop-color="#ffffff"/><stop offset="1.0542" stop-color="#8080ff"/><stop offset="1.1155" stop-color="#0606ff"/></linearGradient><linearGradient id="g56" x1="145.0" x2="634.0" y1="0" y2="0" gradientUnits="userSpaceOnUse"><stop offset="0.0000" stop-color="#0606ff"/><stop offset="0.9816" stop-color="#0606ff"/><stop offset="0.9918" stop-color="#6060ff"/><stop offset="1.0184" stop-color="#5b5bff"/><stop offset="1.0389" stop-color="#4343ff"/><stop offset="1.0798" stop-color="#1818ff"/><stop offset="1.1104" stop-color="#0606ff"/></linearGradient><linearGradient id="g57" x1="0" x2="0" y1="0" y2="1"><stop offset="0" stop-color="#ff0000"/><stop offset="0.5" stop-color="#ffffff"/><stop offset="1" stop-color="#0000ff"/></linearGradient><linearGradient id="g58" x1="0" x2="0" y1="181" y2="308" gradientUnits="userSpaceOnUse"><stop offset="0" stop-color="rgb(33,216,33)" stop-opacity="0.18"/><stop offset="0.49" stop-color="rgb(33,216,33)" stop-opacity="0.10"/><stop offset="0.85" stop-color="rgb(33,216,33)" stop-opacity="0.025"/><stop offset="1" stop-color="rgb(33,216,33)" stop-opacity="0"/></linearGradient></defs>
<rect width="1500" height="846" fill="#fff"/>
<g clip-path="url(#clipA)"><rect x="145.0" y="11.9" width="489.0" height="305.0" fill="#f0fafc"/><rect x="600" y="11.9" width="34" height="6" fill="#ffffff"/><rect x="145.0" y="79.20" width="489.0" height="8.06" fill="url(#g1)"/><rect x="145.0" y="86.96" width="489.0" height="8.06" fill="url(#g2)"/><rect x="145.0" y="94.72" width="489.0" height="8.06" fill="url(#g3)"/><rect x="145.0" y="102.48" width="489.0" height="8.06" fill="url(#g4)"/><rect x="145.0" y="110.24" width="489.0" height="8.06" fill="url(#g5)"/><rect x="145.0" y="118.00" width="489.0" height="8.06" fill="url(#g6)"/><rect x="145.0" y="125.76" width="489.0" height="8.06" fill="url(#g7)"/><rect x="145.0" y="133.52" width="489.0" height="8.06" fill="url(#g8)"/><rect x="145.0" y="141.28" width="489.0" height="8.06" fill="url(#g9)"/><rect x="145.0" y="149.04" width="489.0" height="8.06" fill="url(#g10)"/><rect x="145.0" y="156.80" width="489.0" height="8.06" fill="url(#g11)"/><rect x="145.0" y="164.56" width="489.0" height="8.06" fill="url(#g12)"/><rect x="145.0" y="172.32" width="489.0" height="8.06" fill="url(#g13)"/><rect x="145.0" y="180.08" width="489.0" height="8.06" fill="url(#g14)"/><rect x="145.0" y="187.84" width="489.0" height="8.06" fill="url(#g15)"/><rect x="145.0" y="195.60" width="489.0" height="8.06" fill="url(#g16)"/><rect x="145.0" y="203.36" width="489.0" height="8.06" fill="url(#g17)"/><rect x="145.0" y="211.12" width="489.0" height="8.06" fill="url(#g18)"/><rect x="145.0" y="218.88" width="489.0" height="8.06" fill="url(#g19)"/><rect x="145.0" y="226.64" width="489.0" height="8.06" fill="url(#g20)"/><rect x="145.0" y="234.40" width="489.0" height="8.06" fill="url(#g21)"/><rect x="145.0" y="242.16" width="489.0" height="8.06" fill="url(#g22)"/><rect x="145.0" y="249.92" width="489.0" height="8.06" fill="url(#g23)"/><rect x="145.0" y="257.68" width="489.0" height="8.06" fill="url(#g24)"/><rect x="145.0" y="265.44" width="489.0" height="8.06" fill="url(#g25)"/><rect x="145.0" y="273.20" width="489.0" height="8.06" fill="#ffffff"/><rect x="145.0" y="280.96" width="489.0" height="8.06" fill="#ffffff"/><rect x="145.0" y="288.72" width="489.0" height="8.06" fill="#ffffff"/><rect x="145.0" y="296.48" width="489.0" height="8.06" fill="#ffffff"/><rect x="145.0" y="304.24" width="489.0" height="8.06" fill="#ffffff"/><rect x="145.0" y="312.00" width="489.0" height="5.20" fill="#ffffff"/><rect x="145.0" y="280" width="90" height="36.89999999999998" fill="#f0fafc"/><rect x="145.0" y="71.44" width="489.0" height="8.06" fill="url(#g26)"/><rect x="145.0" y="63.68" width="489.0" height="8.06" fill="url(#g27)"/></g>
<line x1="148.0" y1="79.0" x2="633.0" y2="240.0" stroke="#3a3a3a" stroke-width="2.2" />
<line x1="148.0" y1="149.6" x2="378.5" y2="155.6" stroke="#3a3a3a" stroke-width="2.2" />
<line x1="424.0" y1="170.2" x2="634.0" y2="171.2" stroke="#3a3a3a" stroke-width="2.2" />
<rect x="145.0" y="11.9" width="489.0" height="305.0" fill="none" stroke="#000" stroke-width="2"/>
<line x1="134.5" y1="12.0" x2="145.0" y2="12.0" stroke="#000" stroke-width="2" />
<text x="127.0" y="21.2" font-size="30" text-anchor="end" >6</text>
<line x1="134.5" y1="88.1" x2="145.0" y2="88.1" stroke="#000" stroke-width="2" />
<text x="127.0" y="97.3" font-size="30" text-anchor="end" >3</text>
<line x1="134.5" y1="164.2" x2="145.0" y2="164.2" stroke="#000" stroke-width="2" />
<text x="127.0" y="173.4" font-size="30" text-anchor="end" >0</text>
<line x1="134.5" y1="240.4" x2="145.0" y2="240.4" stroke="#000" stroke-width="2" />
<text x="127.0" y="249.6" font-size="30" text-anchor="end" >-3</text>
<line x1="134.5" y1="316.5" x2="145.0" y2="316.5" stroke="#000" stroke-width="2" />
<text x="127.0" y="325.7" font-size="30" text-anchor="end" >-6</text>
<line x1="145.0" y1="316.9" x2="145.0" y2="327.4" stroke="#000" stroke-width="2" />
<text x="145.5" y="358.3" font-size="30" text-anchor="middle" >-6</text>
<line x1="226.3" y1="316.9" x2="226.3" y2="327.4" stroke="#000" stroke-width="2" />
<text x="226.8" y="358.3" font-size="30" text-anchor="middle" >-4</text>
<line x1="307.7" y1="316.9" x2="307.7" y2="327.4" stroke="#000" stroke-width="2" />
<text x="308.2" y="358.3" font-size="30" text-anchor="middle" >-2</text>
<line x1="389.0" y1="316.9" x2="389.0" y2="327.4" stroke="#000" stroke-width="2" />
<text x="389.5" y="358.3" font-size="30" text-anchor="middle" >0</text>
<line x1="470.3" y1="316.9" x2="470.3" y2="327.4" stroke="#000" stroke-width="2" />
<text x="470.8" y="358.3" font-size="30" text-anchor="middle" >2</text>
<line x1="551.7" y1="316.9" x2="551.7" y2="327.4" stroke="#000" stroke-width="2" />
<text x="552.2" y="358.3" font-size="30" text-anchor="middle" >4</text>
<line x1="633.0" y1="316.9" x2="633.0" y2="327.4" stroke="#000" stroke-width="2" />
<text x="633.5" y="358.3" font-size="30" text-anchor="middle" >6</text>
<rect x="655" y="11" width="18" height="306" fill="url(#g28)" stroke="#222" stroke-width="1.6"/>
<line x1="673.0" y1="12.0" x2="684.0" y2="12.0" stroke="#000" stroke-width="1.8" />
<text x="694.0" y="22.5" font-size="30" text-anchor="start" >-3</text>
<line x1="673.0" y1="164.2" x2="684.0" y2="164.2" stroke="#000" stroke-width="1.8" />
<text x="694.0" y="174.7" font-size="30" text-anchor="start" >0</text>
<line x1="673.0" y1="316.3" x2="684.0" y2="316.3" stroke="#000" stroke-width="1.8" />
<text x="694.0" y="326.8" font-size="30" text-anchor="start" >3</text>
<text x="-1.5" y="23.5" font-size="30" text-anchor="start" font-weight="bold">a</text>
<text x="499" y="49" font-size="30"><tspan font-style="italic">R</tspan><tspan font-size="20" dy="7.5">v</tspan><tspan dy="-7.5"> (kV/W)</tspan></text>
<text x="161" y="300.8" font-size="30"><tspan font-style="italic">f</tspan>=0.13 THz</text>
<text x="348.5" y="400.3" font-size="30"><tspan font-style="italic">V</tspan><tspan font-size="20" dy="8">tg</tspan><tspan dy="-8"> (V)</tspan></text>
<text transform="translate(70.8,209) rotate(-90)" font-size="30"><tspan font-style="italic">V</tspan><tspan font-size="20" dy="8">bg</tspan><tspan dy="-8"> (V)</tspan></text>
<g clip-path="url(#clipB)"><rect x="145.0" y="430.8" width="489.0" height="304.7" fill="#0606ff"/><rect x="145.0" y="481.80" width="489.0" height="10.90" fill="url(#g29)"/><rect x="145.0" y="492.40" width="489.0" height="6.70" fill="url(#g30)"/><rect x="145.0" y="498.80" width="489.0" height="6.30" fill="url(#g31)"/><rect x="145.0" y="504.80" width="489.0" height="7.10" fill="url(#g32)"/><rect x="145.0" y="511.60" width="489.0" height="6.60" fill="url(#g33)"/><rect x="145.0" y="517.90" width="489.0" height="7.00" fill="url(#g34)"/><rect x="145.0" y="524.60" width="489.0" height="6.70" fill="url(#g35)"/><rect x="145.0" y="531.00" width="489.0" height="6.70" fill="url(#g36)"/><rect x="145.0" y="537.40" width="489.0" height="6.70" fill="url(#g37)"/><rect x="145.0" y="543.80" width="489.0" height="7.20" fill="url(#g38)"/><rect x="145.0" y="550.70" width="489.0" height="6.70" fill="url(#g39)"/><rect x="145.0" y="557.10" width="489.0" height="6.70" fill="url(#g40)"/><rect x="145.0" y="563.50" width="489.0" height="6.70" fill="url(#g41)"/><rect x="145.0" y="569.90" width="489.0" height="6.70" fill="url(#g42)"/><rect x="145.0" y="576.30" width="489.0" height="6.70" fill="url(#g43)"/><rect x="145.0" y="582.70" width="489.0" height="6.90" fill="url(#g44)"/><rect x="145.0" y="589.30" width="489.0" height="6.70" fill="url(#g45)"/><rect x="145.0" y="595.70" width="489.0" height="6.60" fill="url(#g46)"/><rect x="145.0" y="602.00" width="489.0" height="7.30" fill="url(#g47)"/><rect x="145.0" y="609.00" width="489.0" height="7.30" fill="url(#g48)"/><rect x="145.0" y="616.00" width="489.0" height="6.60" fill="url(#g49)"/><rect x="145.0" y="622.30" width="489.0" height="6.70" fill="url(#g50)"/><rect x="145.0" y="628.70" width="489.0" height="6.70" fill="url(#g51)"/><rect x="145.0" y="635.10" width="489.0" height="6.70" fill="url(#g52)"/><rect x="145.0" y="641.50" width="489.0" height="8.60" fill="url(#g53)"/><rect x="145.0" y="649.80" width="489.0" height="8.50" fill="url(#g54)"/><rect x="145.0" y="658.00" width="489.0" height="8.00" fill="url(#g55)"/><rect x="145.0" y="665.70" width="489.0" height="8.10" fill="url(#g56)"/></g>
<rect x="145.0" y="430.8" width="489.0" height="304.7" fill="none" stroke="#000" stroke-width="2"/>
<line x1="134.5" y1="431.0" x2="145.0" y2="431.0" stroke="#000" stroke-width="2" />
<text x="127.0" y="440.2" font-size="30" text-anchor="end" >6</text>
<line x1="134.5" y1="507.1" x2="145.0" y2="507.1" stroke="#000" stroke-width="2" />
<text x="127.0" y="516.3" font-size="30" text-anchor="end" >3</text>
<line x1="134.5" y1="583.2" x2="145.0" y2="583.2" stroke="#000" stroke-width="2" />
<text x="127.0" y="592.5" font-size="30" text-anchor="end" >0</text>
<line x1="134.5" y1="659.4" x2="145.0" y2="659.4" stroke="#000" stroke-width="2" />
<text x="127.0" y="668.6" font-size="30" text-anchor="end" >-3</text>
<line x1="134.5" y1="735.5" x2="145.0" y2="735.5" stroke="#000" stroke-width="2" />
<text x="127.0" y="744.7" font-size="30" text-anchor="end" >-6</text>
<line x1="145.0" y1="735.5" x2="145.0" y2="746.0" stroke="#000" stroke-width="2" />
<text x="145.5" y="777.3" font-size="30" text-anchor="middle" >-6</text>
<line x1="226.3" y1="735.5" x2="226.3" y2="746.0" stroke="#000" stroke-width="2" />
<text x="226.8" y="777.3" font-size="30" text-anchor="middle" >-4</text>
<line x1="307.7" y1="735.5" x2="307.7" y2="746.0" stroke="#000" stroke-width="2" />
<text x="308.2" y="777.3" font-size="30" text-anchor="middle" >-2</text>
<line x1="389.0" y1="735.5" x2="389.0" y2="746.0" stroke="#000" stroke-width="2" />
<text x="389.5" y="777.3" font-size="30" text-anchor="middle" >0</text>
<line x1="470.3" y1="735.5" x2="470.3" y2="746.0" stroke="#000" stroke-width="2" />
<text x="470.8" y="777.3" font-size="30" text-anchor="middle" >2</text>
<line x1="551.7" y1="735.5" x2="551.7" y2="746.0" stroke="#000" stroke-width="2" />
<text x="552.2" y="777.3" font-size="30" text-anchor="middle" >4</text>
<line x1="633.0" y1="735.5" x2="633.0" y2="746.0" stroke="#000" stroke-width="2" />
<text x="633.5" y="777.3" font-size="30" text-anchor="middle" >6</text>
<rect x="653.5" y="432" width="18" height="306" fill="url(#g57)" stroke="#111" stroke-width="1.6"/>
<line x1="671.5" y1="433.3" x2="682.0" y2="433.3" stroke="#000" stroke-width="1.8" />
<text x="694.0" y="443.8" font-size="30" text-anchor="start" >32</text>
<line x1="671.5" y1="585.0" x2="682.0" y2="585.0" stroke="#000" stroke-width="1.8" />
<text x="694.0" y="595.5" font-size="30" text-anchor="start" >16</text>
<line x1="671.5" y1="736.7" x2="682.0" y2="736.7" stroke="#000" stroke-width="1.8" />
<text x="694.0" y="747.2" font-size="30" text-anchor="start" >0</text>
<text x="-1.5" y="413.0" font-size="30" text-anchor="start" font-weight="bold">b</text>
<text x="158.6" y="468.2" font-size="30" fill="#fff880">10 K</text>
<text x="521" y="461.2" font-size="30" fill="#fff880"><tspan font-style="italic">r</tspan><tspan font-size="20" dy="8">2pt</tspan><tspan dy="-8"> (kΩ)</tspan></text>
<text x="351.5" y="833.4" font-size="30"><tspan font-style="italic">V</tspan><tspan font-size="20" dy="8">tg</tspan><tspan dy="-8"> (V)</tspan></text>
<text transform="translate(60.5,621.6) rotate(-90)" font-size="30"><tspan font-style="italic">V</tspan><tspan font-size="20" dy="8">bg</tspan><tspan dy="-8"> (V)</tspan></text>
<path d="M935.3,60.5 L951.3,62.7 L957.7,63.7 L983.3,68.6 L1015.3,72.9 L1058.0,79.7 L1100.7,87.2 L1143.3,93.6 L1186.0,98.9 L1200.0,99.8 L1211.2,101.6 L1236.0,108.8 L1267.4,119.0 L1289.8,126.8 L1300.0,128.7 L1308.3,130.9 L1316.6,132.0 L1326.5,135.3 L1334.8,139.5 L1343.0,145.3 L1349.7,151.9 L1354.6,157.7 L1359.6,165.1 L1364.6,173.4 L1369.5,165.1 L1371.2,157.7 L1372.8,109.7 L1374.2,76.9 L1375.3,109.7 L1376.2,139.5 L1378.6,166.0 L1381.1,183.3 L1385.3,183.8 L1387.7,179.2 L1392.7,167.6 L1396.9,157.7 L1401.8,148.6 L1407.6,141.5 L1414.2,138.1 L1420.0,135.3 L1424.6,134.2 L1447.1,123.4 L1469.5,114.4 L1480.0,111.5 L1486.4,111.1" fill="none" stroke="#000" stroke-width="2.0" stroke-linejoin="round" stroke-linecap="round" />
<path d="M934.7,188.1 L940.7,191.3 L962.0,198.8 L983.3,204.1 L1015.3,211.6 L1036.7,215.9 L1068.7,221.6 L1100.7,229.7 L1132.7,240.4 L1150.0,244.5 L1157.8,247.1 L1165.6,250.4 L1176.0,254.7 L1186.4,257.3 L1195.5,258.6 L1203.3,258.2 L1209.8,254.9 L1215.0,249.7 L1220.2,240.6 L1225.4,228.9 L1229.3,215.9 L1231.3,202.9 L1232.6,188.6 L1233.9,173.0 L1235.2,160.0 L1236.0,122.3 L1237.7,62.8 L1239.3,104.3 L1241.1,142.5 L1246.0,125.7 L1251.7,117.8 L1258.4,99.8 L1267.4,84.1 L1278.6,71.8 L1294.3,63.9 L1304.4,59.9 L1310.0,61.2 L1319.0,53.1 L1332.5,48.6 L1341.5,43.7 L1347.1,48.2 L1351.6,38.1 L1357.2,41.4 L1361.7,34.3 L1367.3,43.2 L1373.0,32.5 L1378.6,41.4 L1384.2,32.5 L1388.7,36.5 L1402.2,33.6 L1410.0,33.6 L1414.5,29.8 L1420.1,35.2 L1429.1,30.7 L1447.1,28.4 L1456.1,25.3 L1462.8,24.6 L1466.2,26.2 L1480.8,25.3 L1486.4,25.3" fill="none" stroke="#f83838" stroke-width="2.0" stroke-linejoin="round" stroke-linecap="round" />
<path d="M934.8,181 L1207.5,181 L1076.5,323.5 L934.8,323.5 Z" fill="url(#g58)"/>
<line x1="934.8" y1="180.9" x2="1210.5" y2="180.9" stroke="#3c443c" stroke-width="2" stroke-dasharray="4.7 4.6"/>
<rect x="934.8" y="12.0" width="552.0" height="311.5" fill="none" stroke="#000" stroke-width="2"/>
<line x1="929.0" y1="323.0" x2="934.8" y2="323.0" stroke="#000" stroke-width="2" />
<line x1="929.0" y1="316.0" x2="934.8" y2="316.0" stroke="#000" stroke-width="2" />
<line x1="929.0" y1="310.1" x2="934.8" y2="310.1" stroke="#000" stroke-width="2" />
<line x1="929.0" y1="304.9" x2="934.8" y2="304.9" stroke="#000" stroke-width="2" />
<line x1="929.0" y1="300.4" x2="934.8" y2="300.4" stroke="#000" stroke-width="2" />
<line x1="923.7" y1="296.3" x2="934.8" y2="296.3" stroke="#000" stroke-width="2" />
<line x1="929.0" y1="269.6" x2="934.8" y2="269.6" stroke="#000" stroke-width="2" />
<line x1="929.0" y1="253.9" x2="934.8" y2="253.9" stroke="#000" stroke-width="2" />
<line x1="929.0" y1="242.8" x2="934.8" y2="242.8" stroke="#000" stroke-width="2" />
<line x1="929.0" y1="234.2" x2="934.8" y2="234.2" stroke="#000" stroke-width="2" />
<line x1="929.0" y1="227.2" x2="934.8" y2="227.2" stroke="#000" stroke-width="2" />
<line x1="929.0" y1="221.3" x2="934.8" y2="221.3" stroke="#000" stroke-width="2" />
<line x1="929.0" y1="216.1" x2="934.8" y2="216.1" stroke="#000" stroke-width="2" />
<line x1="929.0" y1="211.6" x2="934.8" y2="211.6" stroke="#000" stroke-width="2" />
<line x1="923.7" y1="207.5" x2="934.8" y2="207.5" stroke="#000" stroke-width="2" />
<line x1="929.0" y1="180.8" x2="934.8" y2="180.8" stroke="#000" stroke-width="2" />
<line x1="929.0" y1="165.1" x2="934.8" y2="165.1" stroke="#000" stroke-width="2" />
<line x1="929.0" y1="154.0" x2="934.8" y2="154.0" stroke="#000" stroke-width="2" />
<line x1="929.0" y1="145.4" x2="934.8" y2="145.4" stroke="#000" stroke-width="2" />
<line x1="929.0" y1="138.4" x2="934.8" y2="138.4" stroke="#000" stroke-width="2" />
<line x1="929.0" y1="132.5" x2="934.8" y2="132.5" stroke="#000" stroke-width="2" />
<line x1="929.0" y1="127.3" x2="934.8" y2="127.3" stroke="#000" stroke-width="2" />
<line x1="929.0" y1="122.8" x2="934.8" y2="122.8" stroke="#000" stroke-width="2" />
<line x1="923.7" y1="118.7" x2="934.8" y2="118.7" stroke="#000" stroke-width="2" />
<line x1="929.0" y1="92.0" x2="934.8" y2="92.0" stroke="#000" stroke-width="2" />
<line x1="929.0" y1="76.3" x2="934.8" y2="76.3" stroke="#000" stroke-width="2" />
<line x1="929.0" y1="65.2" x2="934.8" y2="65.2" stroke="#000" stroke-width="2" />
<line x1="929.0" y1="56.6" x2="934.8" y2="56.6" stroke="#000" stroke-width="2" />
<line x1="929.0" y1="49.6" x2="934.8" y2="49.6" stroke="#000" stroke-width="2" />
<line x1="929.0" y1="43.7" x2="934.8" y2="43.7" stroke="#000" stroke-width="2" />
<line x1="929.0" y1="38.5" x2="934.8" y2="38.5" stroke="#000" stroke-width="2" />
<line x1="929.0" y1="34.0" x2="934.8" y2="34.0" stroke="#000" stroke-width="2" />
<line x1="923.7" y1="29.9" x2="934.8" y2="29.9" stroke="#000" stroke-width="2" />
<text x="916.0" y="39.1" font-size="30" text-anchor="end" >100</text>
<text x="916.0" y="127.9" font-size="30" text-anchor="end" >10</text>
<text x="916.0" y="216.7" font-size="30" text-anchor="end" >1</text>
<text x="916.0" y="305.5" font-size="30" text-anchor="end" >0.1</text>
<line x1="934.5" y1="323.5" x2="934.5" y2="334.5" stroke="#000" stroke-width="2" />
<text x="935.0" y="365.2" font-size="30" text-anchor="middle" >-8</text>
<line x1="1044.8" y1="323.5" x2="1044.8" y2="334.5" stroke="#000" stroke-width="2" />
<text x="1045.3" y="365.2" font-size="30" text-anchor="middle" >-6</text>
<line x1="1155.1" y1="323.5" x2="1155.1" y2="334.5" stroke="#000" stroke-width="2" />
<text x="1155.6" y="365.2" font-size="30" text-anchor="middle" >-4</text>
<line x1="1265.5" y1="323.5" x2="1265.5" y2="334.5" stroke="#000" stroke-width="2" />
<text x="1266.0" y="365.2" font-size="30" text-anchor="middle" >-2</text>
<line x1="1375.8" y1="323.5" x2="1375.8" y2="334.5" stroke="#000" stroke-width="2" />
<text x="1376.3" y="365.2" font-size="30" text-anchor="middle" >0</text>
<line x1="1486.1" y1="323.5" x2="1486.1" y2="334.5" stroke="#000" stroke-width="2" />
<text x="1486.6" y="365.2" font-size="30" text-anchor="middle" >2</text>
<text x="765.5" y="23.5" font-size="30" text-anchor="start" font-weight="bold">c</text>
<text x="950" y="157.5" font-size="29.8">SHEB @ 0.13 THz</text>
<text x="1243" y="264.7" font-size="30"><tspan font-style="italic">V</tspan><tspan font-size="20" dy="8">bg</tspan><tspan dy="-8"> (V)</tspan></text>
<line x1="1349.0" y1="233.9" x2="1414.4" y2="233.9" stroke="#000" stroke-width="2" />
<line x1="1349.0" y1="270.8" x2="1414.4" y2="270.8" stroke="#f83838" stroke-width="2" />
<text x="1421.5" y="244.9" font-size="30" text-anchor="start" >0</text>
<text x="1421.5" y="280.5" font-size="30" text-anchor="start" >1.5</text>
<text x="1168.5" y="407.5" font-size="30"><tspan font-style="italic">V</tspan><tspan font-size="20" dy="8">tg</tspan><tspan dy="-8"> (V)</tspan></text>
<text transform="translate(841.4,168) rotate(-90)" font-size="30" text-anchor="middle"><tspan font-style="italic">NEP</tspan> (pW/Hz<tspan font-size="20" dy="-11">0.5</tspan><tspan dy="11">)</tspan></text>
<path d="M937.30,694.70 C938.30,694.87 941.18,695.48 943.30,695.70 C945.42,695.92 947.77,696.07 950.00,696.00 C952.23,695.93 953.37,695.90 956.70,695.30 C960.03,694.70 965.57,693.47 970.00,692.40 C974.43,691.33 978.85,690.15 983.30,688.90 C987.75,687.65 992.25,686.32 996.70,684.90 C1001.15,683.48 1005.57,681.95 1010.00,680.40 C1014.43,678.85 1018.85,677.15 1023.30,675.60 C1027.75,674.05 1032.92,672.30 1036.70,671.10 C1040.48,669.90 1043.33,668.98 1046.00,668.40 C1048.67,667.82 1050.70,667.60 1052.70,667.60 C1054.70,667.60 1056.23,667.78 1058.00,668.40 C1059.77,669.02 1061.52,669.82 1063.30,671.30 C1065.08,672.78 1066.92,674.73 1068.70,677.30 C1070.48,679.87 1072.23,683.03 1074.00,686.70 C1075.77,690.37 1077.52,694.97 1079.30,699.30 C1081.08,703.63 1082.92,708.80 1084.70,712.70 C1086.48,716.60 1088.23,719.93 1090.00,722.70 C1091.77,725.47 1093.52,727.93 1095.30,729.30 C1097.08,730.67 1098.92,730.83 1100.70,730.90 C1102.48,730.97 1103.33,730.97 1106.00,729.70 C1108.67,728.43 1112.70,725.70 1116.70,723.30 C1120.70,720.90 1126.20,717.25 1130.00,715.30 C1133.80,713.35 1135.50,712.85 1139.50,711.60 C1143.50,710.35 1148.92,708.82 1154.00,707.80 C1159.08,706.78 1165.17,706.07 1170.00,705.50 C1174.83,704.93 1176.33,704.78 1183.00,704.40 C1189.67,704.02 1200.28,703.55 1210.00,703.20 C1219.72,702.85 1226.30,702.52 1241.30,702.30 C1256.30,702.08 1280.62,702.00 1300.00,701.90 C1319.38,701.80 1325.55,701.73 1357.60,701.70 C1389.65,701.67 1469.85,701.70 1492.30,701.70" fill="none" stroke="#14a0f5" stroke-width="2.3" stroke-linejoin="round" stroke-linecap="round" />
<path d="M937.20,630.40 C938.25,629.67 940.20,628.28 943.50,626.00 C946.80,623.72 953.25,619.22 957.00,616.70 C960.75,614.18 962.63,613.22 966.00,610.90 C969.37,608.58 973.08,606.70 977.20,602.80 C981.32,598.90 987.33,591.43 990.70,587.50 C994.07,583.57 994.78,582.63 997.40,579.20 C1000.02,575.77 1003.03,572.52 1006.40,566.90 C1009.77,561.28 1014.60,552.07 1017.60,545.50 C1020.60,538.93 1021.77,534.23 1024.40,527.50 C1027.03,520.77 1030.78,512.02 1033.40,505.10 C1036.02,498.18 1038.23,490.88 1040.10,486.00 C1041.97,481.12 1043.10,478.80 1044.60,475.80 C1046.10,472.80 1047.68,470.17 1049.10,468.00 C1050.52,465.83 1052.43,463.67 1053.10,462.80 C1053.85,463.28 1056.20,464.08 1057.60,465.70 C1059.00,467.32 1060.03,469.50 1061.50,472.50 C1062.97,475.50 1065.58,481.83 1066.40,483.70 C1066.82,486.32 1068.12,493.40 1068.90,499.40 C1069.68,505.40 1070.58,512.95 1071.10,519.70 C1071.62,526.45 1071.67,529.05 1072.00,539.90 C1072.33,550.75 1072.68,568.10 1073.10,584.80 C1073.52,601.50 1073.88,622.57 1074.50,640.10 C1075.12,657.63 1075.92,674.47 1076.80,690.00 C1077.68,705.53 1079.30,726.08 1079.80,733.30 C1080.38,731.63 1081.60,726.30 1083.30,723.30 C1085.00,720.30 1087.10,718.18 1090.00,715.30 C1092.90,712.42 1097.37,708.07 1100.70,706.00 C1104.03,703.93 1105.12,703.68 1110.00,702.90 C1114.88,702.12 1121.67,701.58 1130.00,701.30 C1138.33,701.02 1131.67,701.20 1160.00,701.20 C1188.33,701.20 1244.67,701.33 1300.00,701.30 C1355.33,701.27 1460.00,701.05 1492.00,701.00" fill="none" stroke="#f83838" stroke-width="2.0" stroke-linejoin="round" stroke-linecap="round" />
<rect x="937.0" y="447.8" width="555.3" height="302.8" fill="none" stroke="#000" stroke-width="2"/>
<line x1="926.2" y1="700.7" x2="937.0" y2="700.7" stroke="#000" stroke-width="2" />
<text x="918.0" y="709.9" font-size="30" text-anchor="end" >0</text>
<line x1="926.2" y1="630.5" x2="937.0" y2="630.5" stroke="#000" stroke-width="2" />
<text x="918.0" y="639.7" font-size="30" text-anchor="end" >1</text>
<line x1="926.2" y1="560.3" x2="937.0" y2="560.3" stroke="#000" stroke-width="2" />
<text x="918.0" y="569.5" font-size="30" text-anchor="end" >2</text>
<line x1="926.2" y1="490.1" x2="937.0" y2="490.1" stroke="#000" stroke-width="2" />
<text x="918.0" y="499.3" font-size="30" text-anchor="end" >3</text>
<line x1="937.0" y1="750.6" x2="937.0" y2="761.1" stroke="#000" stroke-width="2" />
<text x="937.5" y="791.8" font-size="30" text-anchor="middle" >-6</text>
<line x1="1029.5" y1="750.6" x2="1029.5" y2="761.1" stroke="#000" stroke-width="2" />
<text x="1030.0" y="791.8" font-size="30" text-anchor="middle" >-4</text>
<line x1="1122.0" y1="750.6" x2="1122.0" y2="761.1" stroke="#000" stroke-width="2" />
<text x="1122.5" y="791.8" font-size="30" text-anchor="middle" >-2</text>
<line x1="1214.5" y1="750.6" x2="1214.5" y2="761.1" stroke="#000" stroke-width="2" />
<text x="1215.0" y="791.8" font-size="30" text-anchor="middle" >0</text>
<line x1="1307.0" y1="750.6" x2="1307.0" y2="761.1" stroke="#000" stroke-width="2" />
<text x="1307.5" y="791.8" font-size="30" text-anchor="middle" >2</text>
<line x1="1399.5" y1="750.6" x2="1399.5" y2="761.1" stroke="#000" stroke-width="2" />
<text x="1400.0" y="791.8" font-size="30" text-anchor="middle" >4</text>
<line x1="1492.0" y1="750.6" x2="1492.0" y2="761.1" stroke="#000" stroke-width="2" />
<text x="1492.5" y="791.8" font-size="30" text-anchor="middle" >6</text>
<text x="765.0" y="413.5" font-size="30" text-anchor="start" font-weight="bold">d</text>
<text x="952" y="730.4" font-size="30">x15</text>
<text x="1172.5" y="832.6" font-size="30"><tspan font-style="italic">V</tspan><tspan font-size="20" dy="8">tg</tspan><tspan dy="-8"> (V)</tspan></text>
<text transform="translate(843,661.5) rotate(-90)" font-size="30"><tspan font-style="italic">R</tspan><tspan font-size="20" dy="7.5">v</tspan><tspan dy="-7.5" dx="-4"> (kV/W)</tspan></text>
<path d="M1235.80,575.50 C1238.08,575.07 1245.27,573.75 1249.50,572.90 C1253.73,572.05 1257.30,571.43 1261.20,570.40 C1265.10,569.37 1269.33,568.07 1272.90,566.70 C1276.47,565.33 1279.35,563.85 1282.60,562.20 C1285.85,560.55 1289.80,558.27 1292.40,556.80 C1295.00,555.33 1296.42,554.05 1298.20,553.40 C1299.98,552.75 1301.47,552.67 1303.10,552.90 C1304.73,553.13 1306.22,553.25 1308.00,554.80 C1309.78,556.35 1311.85,559.33 1313.80,562.20 C1315.75,565.07 1317.75,568.92 1319.70,572.00 C1321.65,575.08 1323.23,577.95 1325.50,580.70 C1327.77,583.45 1330.37,586.12 1333.30,588.50 C1336.23,590.88 1339.52,593.22 1343.10,595.00 C1346.68,596.78 1350.32,598.00 1354.80,599.20 C1359.28,600.40 1362.47,601.40 1370.00,602.20 C1377.53,603.00 1390.00,603.50 1400.00,604.00 C1410.00,604.50 1419.33,604.80 1430.00,605.20 C1440.67,605.60 1458.33,606.20 1464.00,606.40" fill="none" stroke="#14a0f5" stroke-width="2.2" stroke-linejoin="round" stroke-linecap="round" />
<path d="M1235.80,566.10 C1237.43,565.68 1242.35,564.42 1245.60,563.60 C1248.85,562.78 1252.05,562.18 1255.30,561.20 C1258.55,560.22 1262.17,559.00 1265.10,557.70 C1268.03,556.40 1270.30,555.25 1272.90,553.40 C1275.50,551.55 1278.43,549.20 1280.70,546.60 C1282.97,544.00 1284.88,541.05 1286.50,537.80 C1288.12,534.55 1289.25,531.15 1290.40,527.10 C1291.55,523.05 1292.42,519.02 1293.40,513.50 C1294.38,507.98 1295.33,500.83 1296.30,494.00 C1297.27,487.17 1298.30,477.70 1299.20,472.50 C1300.10,467.30 1300.88,463.60 1301.70,462.80 C1302.52,462.00 1303.22,464.45 1304.10,467.70 C1304.98,470.95 1306.03,476.62 1307.00,482.30 C1307.97,487.98 1308.93,495.30 1309.90,501.80 C1310.87,508.30 1311.82,514.80 1312.80,521.30 C1313.78,527.80 1314.82,533.65 1315.80,540.80 C1316.78,547.95 1317.73,557.38 1318.70,564.20 C1319.67,571.02 1320.63,576.67 1321.60,581.70 C1322.57,586.73 1323.37,591.32 1324.50,594.40 C1325.63,597.48 1327.25,598.58 1328.40,600.20 C1329.55,601.82 1330.25,603.28 1331.40,604.10 C1332.55,604.92 1334.17,604.62 1335.30,605.10 C1336.43,605.58 1337.72,606.68 1338.20,607.00 C1340.63,607.00 1350.37,607.00 1352.80,607.00 C1353.13,607.43 1354.47,609.17 1354.80,609.60 C1370.87,609.60 1435.13,609.60 1451.20,609.60 C1451.42,610.00 1452.28,611.60 1452.50,612.00 C1454.42,612.00 1462.08,612.00 1464.00,612.00" fill="none" stroke="#f83838" stroke-width="2.0" stroke-linejoin="round" stroke-linecap="round" />
<path d="M1235.0,459.1 L1235.0,617.0 L1464.2,617.0 L1464.2,606.0" fill="none" stroke="#000" stroke-width="2"/>
<line x1="1235.0" y1="613.3" x2="1240.5" y2="613.3" stroke="#000" stroke-width="2" />
<line x1="1235.0" y1="609.4" x2="1240.5" y2="609.4" stroke="#000" stroke-width="2" />
<line x1="1235.0" y1="605.8" x2="1240.5" y2="605.8" stroke="#000" stroke-width="2" />
<line x1="1235.0" y1="602.7" x2="1245.5" y2="602.7" stroke="#000" stroke-width="2" />
<line x1="1235.0" y1="582.0" x2="1240.5" y2="582.0" stroke="#000" stroke-width="2" />
<line x1="1235.0" y1="569.9" x2="1240.5" y2="569.9" stroke="#000" stroke-width="2" />
<line x1="1235.0" y1="561.3" x2="1240.5" y2="561.3" stroke="#000" stroke-width="2" />
<line x1="1235.0" y1="554.7" x2="1240.5" y2="554.7" stroke="#000" stroke-width="2" />
<line x1="1235.0" y1="549.2" x2="1240.5" y2="549.2" stroke="#000" stroke-width="2" />
<line x1="1235.0" y1="544.6" x2="1240.5" y2="544.6" stroke="#000" stroke-width="2" />
<line x1="1235.0" y1="540.7" x2="1240.5" y2="540.7" stroke="#000" stroke-width="2" />
<line x1="1235.0" y1="537.1" x2="1240.5" y2="537.1" stroke="#000" stroke-width="2" />
<line x1="1235.0" y1="534.0" x2="1245.5" y2="534.0" stroke="#000" stroke-width="2" />
<line x1="1235.0" y1="513.3" x2="1240.5" y2="513.3" stroke="#000" stroke-width="2" />
<line x1="1235.0" y1="501.2" x2="1240.5" y2="501.2" stroke="#000" stroke-width="2" />
<line x1="1235.0" y1="492.6" x2="1240.5" y2="492.6" stroke="#000" stroke-width="2" />
<line x1="1235.0" y1="486.0" x2="1240.5" y2="486.0" stroke="#000" stroke-width="2" />
<line x1="1235.0" y1="480.5" x2="1240.5" y2="480.5" stroke="#000" stroke-width="2" />
<line x1="1235.0" y1="475.9" x2="1240.5" y2="475.9" stroke="#000" stroke-width="2" />
<line x1="1235.0" y1="472.0" x2="1240.5" y2="472.0" stroke="#000" stroke-width="2" />
<line x1="1235.0" y1="468.4" x2="1240.5" y2="468.4" stroke="#000" stroke-width="2" />
<line x1="1235.0" y1="465.3" x2="1245.5" y2="465.3" stroke="#000" stroke-width="2" />
<line x1="1292.3" y1="617.0" x2="1292.3" y2="606.5" stroke="#000" stroke-width="2" />
<line x1="1349.6" y1="617.0" x2="1349.6" y2="606.5" stroke="#000" stroke-width="2" />
<line x1="1406.9" y1="617.0" x2="1406.9" y2="606.5" stroke="#000" stroke-width="2" />
<text x="1222.5" y="474.8" font-size="30" text-anchor="end" >10</text>
<text x="1220.0" y="543.5" font-size="30" text-anchor="end" >1</text>
<text x="1220.0" y="612.2" font-size="30" text-anchor="end" >0.1</text>
<text x="1235.5" y="653.2" font-size="30" text-anchor="middle" >-6</text>
<text x="1292.8" y="653.2" font-size="30" text-anchor="middle" >-3</text>
<text x="1350.1" y="653.2" font-size="30" text-anchor="middle" >0</text>
<text x="1407.4" y="653.2" font-size="30" text-anchor="middle" >3</text>
<text x="1464.7" y="653.2" font-size="30" text-anchor="middle" >6</text>
<text x="1308" y="679" font-size="30"><tspan font-style="italic">V</tspan><tspan font-size="20" dy="8">tg</tspan><tspan dy="-8"> (V)</tspan></text>
<text transform="translate(1164,579.5) rotate(-90)" font-size="30"><tspan font-style="italic">r</tspan><tspan font-size="20" dy="8">2pt</tspan><tspan dy="-8"> (kΩ)</tspan></text>
<line x1="1343.7" y1="473.7" x2="1410.0" y2="473.7" stroke="#f83838" stroke-width="2" />
<line x1="1343.7" y1="509.5" x2="1410.0" y2="509.5" stroke="#14a0f5" stroke-width="2.2" />
<text x="1417.0" y="483.5" font-size="30" text-anchor="start" >10 K</text>
<text x="1417.0" y="519.8" font-size="30" text-anchor="start" >77 K</text>
</svg></body></html>
